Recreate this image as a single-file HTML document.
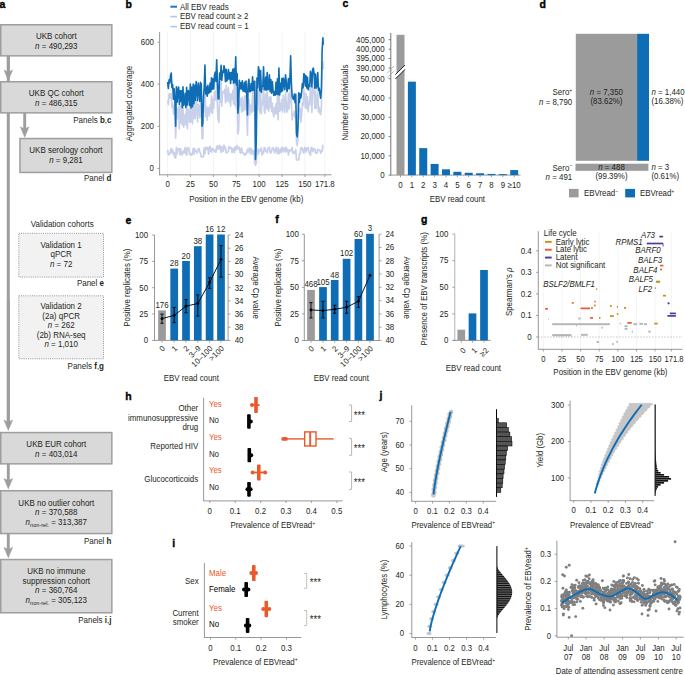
<!DOCTYPE html>
<html><head><meta charset="utf-8"><style>
html,body{margin:0;padding:0;background:#fff;}
svg{display:block;font-family:"Liberation Sans",sans-serif;}
</style></head><body>
<svg width="685" height="675" viewBox="0 0 685 675">
<text x="0" y="0" transform="translate(-0.60,7.60) scale(1,1.1)" font-size="10.5" fill="#000" font-weight="bold" stroke="#000" stroke-width="0.35">a</text>
<line x1="8.30" y1="56.00" x2="8.30" y2="425.00" stroke="#9e9e9e" stroke-width="3"/>
<line x1="8.30" y1="56.00" x2="8.30" y2="73.00" stroke="#9e9e9e" stroke-width="2.9"/>
<path d="M3.90,69.90 L8.30,72.10 L12.70,69.90 L8.30,80.60 Z" fill="#9e9e9e" stroke="#9e9e9e" stroke-width="0.4" stroke-linejoin="round"/>
<line x1="8.30" y1="300.00" x2="8.30" y2="423.00" stroke="#9e9e9e" stroke-width="2.9"/>
<path d="M3.90,419.90 L8.30,422.10 L12.70,419.90 L8.30,430.60 Z" fill="#9e9e9e" stroke="#9e9e9e" stroke-width="0.4" stroke-linejoin="round"/>
<line x1="8.30" y1="464.00" x2="8.30" y2="481.50" stroke="#9e9e9e" stroke-width="2.9"/>
<path d="M3.90,478.40 L8.30,480.60 L12.70,478.40 L8.30,489.10 Z" fill="#9e9e9e" stroke="#9e9e9e" stroke-width="0.4" stroke-linejoin="round"/>
<line x1="8.30" y1="534.00" x2="8.30" y2="550.30" stroke="#9e9e9e" stroke-width="2.9"/>
<path d="M3.90,547.20 L8.30,549.40 L12.70,547.20 L8.30,557.90 Z" fill="#9e9e9e" stroke="#9e9e9e" stroke-width="0.4" stroke-linejoin="round"/>
<line x1="24.70" y1="113.00" x2="24.70" y2="129.80" stroke="#9e9e9e" stroke-width="2.9"/>
<path d="M20.30,126.70 L24.70,128.90 L29.10,126.70 L24.70,137.40 Z" fill="#9e9e9e" stroke="#9e9e9e" stroke-width="0.4" stroke-linejoin="round"/>
<rect x="0.75" y="24.75" width="111.10" height="31.10" fill="#d9d9d9" stroke="#9e9e9e" stroke-width="1.5"/>
<text x="0" y="0" transform="translate(56.30,39.20) scale(1,1.1)" font-size="8" fill="#231f20" text-anchor="middle">UKB cohort</text>
<text x="0" y="0" transform="translate(56.30,48.60) scale(1,1.1)" font-size="8" fill="#231f20" text-anchor="middle"><tspan font-style="italic">n</tspan> = 490,293</text>
<rect x="0.75" y="81.75" width="111.10" height="31.10" fill="#d9d9d9" stroke="#9e9e9e" stroke-width="1.5"/>
<text x="0" y="0" transform="translate(56.30,96.40) scale(1,1.1)" font-size="8" fill="#231f20" text-anchor="middle">UKB QC cohort</text>
<text x="0" y="0" transform="translate(56.30,105.80) scale(1,1.1)" font-size="8" fill="#231f20" text-anchor="middle"><tspan font-style="italic">n</tspan> = 486,315</text>
<text x="0" y="0" transform="translate(111.50,122.80) scale(1,1.1)" font-size="8" fill="#231f20" text-anchor="end">Panels <tspan font-weight="bold">b</tspan>,<tspan font-weight="bold">c</tspan></text>
<rect x="19.95" y="138.55" width="91.90" height="33.90" fill="#d9d9d9" stroke="#9e9e9e" stroke-width="1.5"/>
<text x="0" y="0" transform="translate(65.90,153.30) scale(1,1.1)" font-size="8" fill="#231f20" text-anchor="middle">UKB serology cohort</text>
<text x="0" y="0" transform="translate(65.90,163.00) scale(1,1.1)" font-size="8" fill="#231f20" text-anchor="middle"><tspan font-style="italic">n</tspan> = 9,281</text>
<text x="0" y="0" transform="translate(111.50,181.20) scale(1,1.1)" font-size="8" fill="#231f20" text-anchor="end">Panel <tspan font-weight="bold">d</tspan></text>
<text x="0" y="0" transform="translate(62.20,226.90) scale(1,1.1)" font-size="8" fill="#231f20" text-anchor="middle">Validation cohorts</text>
<rect x="18.80" y="233.30" width="84.70" height="43.80" fill="#f2f2f2" stroke="#8a8a8a" stroke-width="0.9" stroke-dasharray="1,1.2"/>
<text x="0" y="0" transform="translate(61.15,247.90) scale(1,1.1)" font-size="8" fill="#231f20" text-anchor="middle">Validation 1</text>
<text x="0" y="0" transform="translate(61.15,257.30) scale(1,1.1)" font-size="8" fill="#231f20" text-anchor="middle">qPCR</text>
<text x="0" y="0" transform="translate(61.15,266.90) scale(1,1.1)" font-size="8" fill="#231f20" text-anchor="middle"><tspan font-style="italic">n</tspan> = 72</text>
<text x="0" y="0" transform="translate(104.00,286.40) scale(1,1.1)" font-size="8" fill="#231f20" text-anchor="end">Panel <tspan font-weight="bold">e</tspan></text>
<rect x="18.80" y="295.80" width="84.70" height="63.00" fill="#f2f2f2" stroke="#8a8a8a" stroke-width="0.9" stroke-dasharray="1,1.2"/>
<text x="0" y="0" transform="translate(61.15,309.20) scale(1,1.1)" font-size="8" fill="#231f20" text-anchor="middle">Validation 2</text>
<text x="0" y="0" transform="translate(61.15,318.80) scale(1,1.1)" font-size="8" fill="#231f20" text-anchor="middle">(2a) qPCR</text>
<text x="0" y="0" transform="translate(61.15,328.20) scale(1,1.1)" font-size="8" fill="#231f20" text-anchor="middle"><tspan font-style="italic">n</tspan> = 262</text>
<text x="0" y="0" transform="translate(61.15,338.00) scale(1,1.1)" font-size="8" fill="#231f20" text-anchor="middle">(2b) RNA-seq</text>
<text x="0" y="0" transform="translate(61.15,347.40) scale(1,1.1)" font-size="8" fill="#231f20" text-anchor="middle"><tspan font-style="italic">n</tspan> = 1,010</text>
<text x="0" y="0" transform="translate(104.00,369.10) scale(1,1.1)" font-size="8" fill="#231f20" text-anchor="end">Panels <tspan font-weight="bold">f</tspan>,<tspan font-weight="bold">g</tspan></text>
<rect x="0.75" y="432.55" width="111.10" height="31.30" fill="#d9d9d9" stroke="#9e9e9e" stroke-width="1.5"/>
<text x="0" y="0" transform="translate(56.30,446.80) scale(1,1.1)" font-size="8" fill="#231f20" text-anchor="middle">UKB EUR cohort</text>
<text x="0" y="0" transform="translate(56.30,456.50) scale(1,1.1)" font-size="8" fill="#231f20" text-anchor="middle"><tspan font-style="italic">n</tspan> = 403,014</text>
<rect x="0.75" y="490.75" width="111.10" height="42.80" fill="#d9d9d9" stroke="#9e9e9e" stroke-width="1.5"/>
<text x="0" y="0" transform="translate(56.30,505.80) scale(1,1.1)" font-size="8" fill="#231f20" text-anchor="middle">UKB no outlier cohort</text>
<text x="0" y="0" transform="translate(56.30,515.20) scale(1,1.1)" font-size="8" fill="#231f20" text-anchor="middle"><tspan font-style="italic">n</tspan> = 370,588</text>
<text x="0" y="0" transform="translate(56.30,524.60) scale(1,1.1)" font-size="8" fill="#231f20" text-anchor="middle"><tspan font-style="italic">n</tspan><tspan font-size="5.6" dy="2.2">non-rel.</tspan><tspan dy="-2.2"> = </tspan>313,387</text>
<text x="0" y="0" transform="translate(111.50,543.60) scale(1,1.1)" font-size="8" fill="#231f20" text-anchor="end">Panel <tspan font-weight="bold">h</tspan></text>
<rect x="0.75" y="559.55" width="111.10" height="53.20" fill="#d9d9d9" stroke="#9e9e9e" stroke-width="1.5"/>
<text x="0" y="0" transform="translate(56.30,573.80) scale(1,1.1)" font-size="8" fill="#231f20" text-anchor="middle">UKB no immune</text>
<text x="0" y="0" transform="translate(56.30,583.60) scale(1,1.1)" font-size="8" fill="#231f20" text-anchor="middle">suppression cohort</text>
<text x="0" y="0" transform="translate(56.30,592.80) scale(1,1.1)" font-size="8" fill="#231f20" text-anchor="middle"><tspan font-style="italic">n</tspan> = 360,764</text>
<text x="0" y="0" transform="translate(56.30,602.60) scale(1,1.1)" font-size="8" fill="#231f20" text-anchor="middle"><tspan font-style="italic">n</tspan><tspan font-size="5.6" dy="2.2">non-rel.</tspan><tspan dy="-2.2"> = </tspan>305,123</text>
<text x="0" y="0" transform="translate(111.50,623.40) scale(1,1.1)" font-size="8" fill="#231f20" text-anchor="end">Panels <tspan font-weight="bold">i</tspan>,<tspan font-weight="bold">j</tspan></text>
<text x="0" y="0" transform="translate(125.50,7.50) scale(1,1.1)" font-size="10.5" fill="#000" font-weight="bold" stroke="#000" stroke-width="0.35">b</text>
<line x1="170.40" y1="6.70" x2="177.00" y2="6.70" stroke="#2476bb" stroke-width="2.0"/>
<text x="0" y="0" transform="translate(180.00,9.60) scale(1,1.1)" font-size="7.9" fill="#231f20">All EBV reads</text>
<line x1="170.40" y1="16.60" x2="177.00" y2="16.60" stroke="#a9cae8" stroke-width="1.6"/>
<text x="0" y="0" transform="translate(180.00,19.40) scale(1,1.1)" font-size="7.9" fill="#231f20">EBV read count ≥ 2</text>
<line x1="170.40" y1="26.60" x2="177.00" y2="26.60" stroke="#a9cae8" stroke-width="1.6"/>
<text x="0" y="0" transform="translate(180.00,29.30) scale(1,1.1)" font-size="7.9" fill="#231f20">EBV read count = 1</text>
<line x1="167.60" y1="31.90" x2="167.60" y2="174.50" stroke="#ececec" stroke-width="0.6"/>
<line x1="190.49" y1="31.90" x2="190.49" y2="174.50" stroke="#ececec" stroke-width="0.6"/>
<line x1="213.38" y1="31.90" x2="213.38" y2="174.50" stroke="#ececec" stroke-width="0.6"/>
<line x1="236.26" y1="31.90" x2="236.26" y2="174.50" stroke="#ececec" stroke-width="0.6"/>
<line x1="259.15" y1="31.90" x2="259.15" y2="174.50" stroke="#ececec" stroke-width="0.6"/>
<line x1="282.04" y1="31.90" x2="282.04" y2="174.50" stroke="#ececec" stroke-width="0.6"/>
<line x1="304.92" y1="31.90" x2="304.92" y2="174.50" stroke="#ececec" stroke-width="0.6"/>
<line x1="324.88" y1="31.90" x2="324.88" y2="174.50" stroke="#ececec" stroke-width="0.6"/>
<line x1="159.60" y1="31.90" x2="159.60" y2="175.20" stroke="#8c8c8c" stroke-width="0.9"/>
<line x1="159.20" y1="174.80" x2="331.50" y2="174.80" stroke="#8c8c8c" stroke-width="0.9"/>
<line x1="157.40" y1="168.40" x2="159.60" y2="168.40" stroke="#8c8c8c" stroke-width="0.8"/>
<text x="0" y="0" transform="translate(154.00,171.20) scale(1,1.1)" font-size="7.9" fill="#231f20" text-anchor="end">0</text>
<line x1="157.40" y1="126.30" x2="159.60" y2="126.30" stroke="#8c8c8c" stroke-width="0.8"/>
<text x="0" y="0" transform="translate(154.00,129.10) scale(1,1.1)" font-size="7.9" fill="#231f20" text-anchor="end">200</text>
<line x1="157.40" y1="84.20" x2="159.60" y2="84.20" stroke="#8c8c8c" stroke-width="0.8"/>
<text x="0" y="0" transform="translate(154.00,87.00) scale(1,1.1)" font-size="7.9" fill="#231f20" text-anchor="end">400</text>
<line x1="157.40" y1="42.10" x2="159.60" y2="42.10" stroke="#8c8c8c" stroke-width="0.8"/>
<text x="0" y="0" transform="translate(154.00,44.90) scale(1,1.1)" font-size="7.9" fill="#231f20" text-anchor="end">600</text>
<line x1="167.60" y1="174.80" x2="167.60" y2="177.00" stroke="#8c8c8c" stroke-width="0.8"/>
<text x="0" y="0" transform="translate(167.60,187.40) scale(1,1.1)" font-size="7.9" fill="#231f20" text-anchor="middle">0</text>
<line x1="190.49" y1="174.80" x2="190.49" y2="177.00" stroke="#8c8c8c" stroke-width="0.8"/>
<text x="0" y="0" transform="translate(190.49,187.40) scale(1,1.1)" font-size="7.9" fill="#231f20" text-anchor="middle">25</text>
<line x1="213.38" y1="174.80" x2="213.38" y2="177.00" stroke="#8c8c8c" stroke-width="0.8"/>
<text x="0" y="0" transform="translate(213.38,187.40) scale(1,1.1)" font-size="7.9" fill="#231f20" text-anchor="middle">50</text>
<line x1="236.26" y1="174.80" x2="236.26" y2="177.00" stroke="#8c8c8c" stroke-width="0.8"/>
<text x="0" y="0" transform="translate(236.26,187.40) scale(1,1.1)" font-size="7.9" fill="#231f20" text-anchor="middle">75</text>
<line x1="259.15" y1="174.80" x2="259.15" y2="177.00" stroke="#8c8c8c" stroke-width="0.8"/>
<text x="0" y="0" transform="translate(259.15,187.40) scale(1,1.1)" font-size="7.9" fill="#231f20" text-anchor="middle">100</text>
<line x1="282.04" y1="174.80" x2="282.04" y2="177.00" stroke="#8c8c8c" stroke-width="0.8"/>
<text x="0" y="0" transform="translate(282.04,187.40) scale(1,1.1)" font-size="7.9" fill="#231f20" text-anchor="middle">125</text>
<line x1="304.92" y1="174.80" x2="304.92" y2="177.00" stroke="#8c8c8c" stroke-width="0.8"/>
<text x="0" y="0" transform="translate(304.92,187.40) scale(1,1.1)" font-size="7.9" fill="#231f20" text-anchor="middle">150</text>
<line x1="324.88" y1="174.80" x2="324.88" y2="177.00" stroke="#8c8c8c" stroke-width="0.8"/>
<text x="0" y="0" transform="translate(324.88,187.40) scale(1,1.1)" font-size="7.9" fill="#231f20" text-anchor="middle">171.8</text>
<text x="0" y="0" transform="translate(246.24,202.00) scale(1,1.1)" font-size="7.9" fill="#231f20" text-anchor="middle">Position in the EBV genome (kb)</text>
<text x="0" y="0" font-size="7.9" fill="#231f20" text-anchor="middle" transform="translate(131.80,103.50) rotate(-90) scale(1,1.1)">Aggregated coverage</text>
<polyline points="167.60,149.93 168.33,154.67 169.06,154.58 169.80,154.15 170.53,150.52 171.26,148.27 171.99,152.67 172.73,150.03 173.46,154.66 174.19,152.63 174.92,157.88 175.66,157.88 176.39,147.30 177.12,153.92 177.85,149.02 178.59,149.58 179.32,148.42 180.05,154.65 180.78,148.56 181.52,154.96 182.25,154.67 182.98,152.01 183.71,150.74 184.45,152.91 185.18,147.48 185.91,153.27 186.64,155.11 187.37,147.51 188.11,149.73 188.84,148.14 189.57,154.31 190.30,153.47 191.04,155.14 191.77,154.93 192.50,153.12 193.23,148.35 193.97,154.45 194.70,148.51 195.43,150.91 196.16,150.91 196.90,153.05 197.63,150.88 198.36,148.65 199.09,148.59 199.83,152.29 200.56,153.07 201.29,156.82 202.02,156.82 202.76,156.82 203.49,156.82 204.22,147.86 204.95,153.71 205.68,147.37 206.42,149.34 207.15,147.90 207.88,147.30 208.61,154.09 209.35,148.82 210.08,146.43 210.81,151.11 211.54,151.99 212.28,148.37 213.01,149.02 213.74,149.51 214.47,151.65 215.21,150.43 215.94,152.18 216.67,146.86 217.40,145.73 218.14,148.94 218.87,149.21 219.60,145.50 220.33,146.31 221.07,152.45 221.80,146.76 222.53,147.75 223.26,151.28 223.99,145.12 224.73,148.91 225.46,147.26 226.19,152.89 226.92,152.52 227.66,152.20 228.39,150.87 229.12,146.48 229.85,148.47 230.59,147.53 231.32,147.96 232.05,152.50 232.78,148.61 233.52,148.82 234.25,152.63 234.98,146.96 235.71,150.26 236.45,147.17 237.18,145.56 237.91,149.07 238.64,147.53 239.38,147.38 240.11,152.60 240.84,153.09 241.57,148.18 242.30,152.79 243.04,153.03 243.77,153.18 244.50,155.13 245.23,153.53 245.97,154.42 246.70,152.70 247.43,149.13 248.16,152.02 248.90,149.35 249.63,148.00 250.36,154.02 251.09,148.70 251.83,149.68 252.56,154.07 253.29,150.67 254.02,151.22 254.76,163.77 255.49,163.77 256.22,163.77 256.95,151.19 257.69,149.00 258.42,153.96 259.15,150.60 259.88,149.76 260.61,151.01 261.35,147.99 262.08,155.00 262.81,151.54 263.54,153.45 264.28,147.52 265.01,148.04 265.74,151.25 266.47,151.53 267.21,152.61 267.94,148.43 268.67,147.93 269.40,147.15 270.14,152.94 270.87,152.85 271.60,151.05 272.33,148.07 273.07,147.61 273.80,149.28 274.53,152.85 275.26,151.36 276.00,147.33 276.73,150.68 277.46,153.48 278.19,147.89 278.92,153.60 279.66,153.23 280.39,149.14 281.12,152.12 281.85,147.40 282.59,148.24 283.32,151.94 284.05,148.16 284.78,147.97 285.52,152.01 286.25,147.36 286.98,150.96 287.71,149.96 288.45,154.82 289.18,149.98 289.91,150.05 290.64,150.94 291.38,150.33 292.11,147.47 292.84,153.26 293.57,152.68 294.31,151.78 295.04,153.32 295.77,149.68 296.50,159.98 297.23,159.98 297.97,159.98 298.70,159.98 299.43,153.97 300.16,154.00 300.90,147.95 301.63,147.69 302.36,149.17 303.09,152.15 303.83,152.90 304.56,147.43 305.29,148.56 306.02,152.16 306.76,147.96 307.49,149.01 308.22,147.78 308.95,152.43 309.69,153.04 310.42,155.11 311.15,147.59 311.88,147.49 312.62,151.70 313.35,148.72 314.08,150.28 314.81,148.88 315.54,153.16 316.28,152.53 317.01,153.02 317.74,149.46 318.47,150.18 319.21,149.82 319.94,150.60 320.67,153.16 321.40,150.51 322.14,151.08 322.87,145.25 323.24,145.25" fill="none" stroke="#c8d0ea" stroke-width="1.7" stroke-linejoin="round"/>
<polyline points="167.60,100.60 168.33,104.60 169.06,93.85 169.80,98.34 170.53,93.86 171.26,93.59 171.99,107.28 172.73,103.91 173.46,113.85 174.19,105.47 174.92,115.20 175.66,138.30 176.39,108.02 177.12,118.87 177.85,110.59 178.59,106.86 179.32,128.84 180.05,105.46 180.78,122.66 181.52,105.00 182.25,124.98 182.98,104.73 183.71,127.26 184.45,120.43 185.18,114.38 185.91,124.97 186.64,101.22 187.37,128.95 188.11,109.19 188.84,113.33 189.57,122.53 190.30,99.19 191.04,121.97 191.77,102.05 192.50,123.65 193.23,105.79 193.97,118.33 194.70,105.56 195.43,118.71 196.16,100.74 196.90,104.56 197.63,121.85 198.36,104.38 199.09,109.50 199.83,117.76 200.56,98.88 201.29,97.80 202.02,138.26 202.76,138.89 203.49,112.29 204.22,109.07 204.95,81.06 205.68,116.72 206.42,106.42 207.15,120.32 207.88,107.47 208.61,107.77 209.35,116.03 210.08,105.33 210.81,112.02 211.54,95.82 212.28,113.50 213.01,99.13 213.74,108.68 214.47,92.81 215.21,91.15 215.94,100.32 216.67,82.18 217.40,105.91 218.14,119.56 218.87,122.49 219.60,96.40 220.33,102.29 221.07,81.61 221.80,106.12 222.53,92.12 223.26,91.49 223.99,92.82 224.73,89.41 225.46,103.03 226.19,85.48 226.92,101.29 227.66,96.26 228.39,87.21 229.12,102.19 229.85,93.59 230.59,106.18 231.32,94.38 232.05,99.30 232.78,90.53 233.52,103.94 234.25,84.60 234.98,105.42 235.71,75.01 236.45,108.68 237.18,96.62 237.91,133.98 238.64,130.67 239.38,102.31 240.11,105.41 240.84,98.45 241.57,112.28 242.30,97.24 243.04,110.89 243.77,110.80 244.50,96.10 245.23,109.11 245.97,95.80 246.70,111.60 247.43,135.31 248.16,101.33 248.90,99.34 249.63,115.05 250.36,108.58 251.09,104.56 251.83,112.72 252.56,91.68 253.29,111.04 254.02,98.59 254.76,86.76 255.49,165.36 256.22,148.12 256.95,95.89 257.69,109.90 258.42,81.60 259.15,88.60 259.88,112.67 260.61,88.62 261.35,113.68 262.08,101.97 262.81,104.40 263.54,82.65 264.28,110.97 265.01,113.35 265.74,94.13 266.47,108.55 267.21,89.74 267.94,109.54 268.67,111.31 269.40,96.95 270.14,107.46 270.87,96.77 271.60,111.49 272.33,103.22 273.07,113.21 273.80,116.61 274.53,107.57 275.26,113.71 276.00,103.78 276.73,113.87 277.46,95.33 278.19,119.82 278.92,82.94 279.66,111.32 280.39,103.23 281.12,109.79 281.85,99.80 282.59,112.06 283.32,95.14 284.05,102.15 284.78,112.33 285.52,92.78 286.25,102.67 286.98,112.29 287.71,110.56 288.45,93.48 289.18,108.64 289.91,99.31 290.64,75.94 291.38,101.01 292.11,119.88 292.84,114.44 293.57,115.32 294.31,111.08 295.04,117.85 295.77,113.32 296.50,142.43 297.23,145.63 297.97,139.13 298.70,101.88 299.43,118.78 300.16,108.40 300.90,122.47 301.63,114.49 302.36,102.91 303.09,105.68 303.83,89.79 304.56,95.62 305.29,107.69 306.02,93.63 306.76,108.43 307.49,96.73 308.22,111.58 308.95,102.20 309.69,105.00 310.42,85.80 311.15,94.73 311.88,112.33 312.62,86.92 313.35,89.02 314.08,92.07 314.81,108.11 315.54,89.29 316.28,108.36 317.01,101.40 317.74,92.19 318.47,111.90 319.21,107.19 319.94,113.16 320.67,114.68 321.40,107.55 322.14,68.91 322.87,61.52 323.24,69.37" fill="none" stroke="#c8d0ea" stroke-width="1.6" stroke-linejoin="round"/>
<polyline points="167.60,82.01 168.33,88.52 169.06,79.87 169.80,83.05 170.53,75.32 171.26,72.97 171.99,87.77 172.73,84.91 173.46,99.16 174.19,88.71 174.92,101.44 175.66,126.30 176.39,86.72 177.12,102.12 177.85,90.25 178.59,87.04 179.32,104.48 180.05,90.53 180.78,101.51 181.52,90.78 182.25,107.69 182.98,86.87 183.71,105.51 184.45,103.02 185.18,93.20 185.91,107.59 186.64,87.22 187.37,104.87 188.11,90.43 188.84,91.73 189.57,105.51 190.30,83.98 191.04,108.00 191.77,87.12 192.50,106.76 193.23,84.06 193.97,103.91 194.70,85.39 195.43,100.54 196.16,81.61 196.90,88.59 197.63,100.72 198.36,82.97 199.09,88.45 199.83,101.52 200.56,82.38 201.29,84.56 202.02,126.30 202.76,123.14 203.49,97.01 204.22,87.22 204.95,65.04 205.68,93.85 206.42,87.07 207.15,96.08 207.88,85.26 208.61,93.40 209.35,92.13 210.08,83.00 210.81,92.01 211.54,77.87 212.28,89.28 213.01,78.85 213.74,88.95 214.47,75.27 215.21,72.31 215.94,81.51 216.67,59.78 217.40,81.20 218.14,98.94 218.87,98.94 219.60,73.06 220.33,79.57 221.07,65.26 221.80,80.33 222.53,71.23 223.26,72.77 223.99,65.68 224.73,69.35 225.46,81.80 226.19,69.42 226.92,80.84 227.66,78.82 228.39,69.47 229.12,79.07 229.85,72.48 230.59,83.34 231.32,72.59 232.05,79.41 232.78,69.18 233.52,83.26 234.25,68.49 234.98,82.64 235.71,56.84 236.45,84.90 237.18,73.60 237.91,113.25 238.64,105.25 239.38,80.22 240.11,89.00 240.84,82.87 241.57,88.95 242.30,80.86 243.04,91.07 243.77,91.11 244.50,82.19 245.23,91.91 245.97,81.15 246.70,94.83 247.43,114.93 248.16,84.40 248.90,79.20 249.63,91.75 250.36,91.78 251.09,83.47 251.83,90.78 252.56,76.74 253.29,90.40 254.02,81.41 254.76,81.23 255.49,159.56 256.22,143.14 256.95,78.03 257.69,87.64 258.42,66.73 259.15,70.78 259.88,90.83 260.61,70.45 261.35,92.35 262.08,86.45 262.81,86.30 263.54,66.73 264.28,89.47 265.01,89.73 265.74,76.94 266.47,90.29 267.21,72.53 267.94,89.01 268.67,89.50 269.40,74.71 270.14,91.77 270.87,79.65 271.60,93.26 272.33,81.52 273.07,89.88 273.80,95.40 274.53,91.80 275.26,95.08 276.00,82.27 276.73,94.32 277.46,78.88 278.19,94.69 278.92,67.99 279.66,94.95 280.39,83.28 281.12,91.95 281.85,78.59 282.59,90.90 283.32,77.93 284.05,81.87 284.78,89.72 285.52,74.83 286.25,81.21 286.98,91.69 287.71,88.58 288.45,78.59 289.18,88.81 289.91,79.79 290.64,55.78 291.38,82.92 292.11,95.97 292.84,98.15 293.57,99.50 294.31,94.03 295.04,102.61 295.77,94.26 296.50,133.67 297.23,136.83 297.97,126.30 298.70,92.76 299.43,102.53 300.16,93.92 300.90,97.93 301.63,92.25 302.36,83.62 303.09,87.89 303.83,73.70 304.56,74.30 305.29,85.85 306.02,75.84 306.76,87.85 307.49,77.26 308.22,89.77 308.95,84.96 309.69,86.33 310.42,71.23 311.15,73.88 311.88,87.00 312.62,69.39 313.35,68.09 314.08,73.40 314.81,88.22 315.54,73.94 316.28,87.95 317.01,85.63 317.74,72.50 318.47,90.55 319.21,88.05 319.94,93.64 320.67,98.30 321.40,89.11 322.14,50.52 322.87,37.89 323.24,44.68" fill="none" stroke="#0e6db4" stroke-width="1.6" stroke-linejoin="round"/>
<text x="0" y="0" transform="translate(342.50,7.30) scale(1,1.1)" font-size="10.5" fill="#000" font-weight="bold" stroke="#000" stroke-width="0.35">c</text>
<line x1="390.80" y1="32.90" x2="390.80" y2="175.50" stroke="#666" stroke-width="0.9"/>
<line x1="390.80" y1="175.10" x2="520.50" y2="175.10" stroke="#8c8c8c" stroke-width="0.9"/>
<line x1="388.50" y1="175.10" x2="390.80" y2="175.10" stroke="#666" stroke-width="0.8"/>
<text x="0" y="0" transform="translate(384.60,177.90) scale(1,1.1)" font-size="7.9" fill="#231f20" text-anchor="end">0</text>
<line x1="388.50" y1="155.83" x2="390.80" y2="155.83" stroke="#666" stroke-width="0.8"/>
<text x="0" y="0" transform="translate(384.60,158.63) scale(1,1.1)" font-size="7.9" fill="#231f20" text-anchor="end">10,000</text>
<line x1="388.50" y1="136.56" x2="390.80" y2="136.56" stroke="#666" stroke-width="0.8"/>
<text x="0" y="0" transform="translate(384.60,139.36) scale(1,1.1)" font-size="7.9" fill="#231f20" text-anchor="end">20,000</text>
<line x1="388.50" y1="117.29" x2="390.80" y2="117.29" stroke="#666" stroke-width="0.8"/>
<text x="0" y="0" transform="translate(384.60,120.09) scale(1,1.1)" font-size="7.9" fill="#231f20" text-anchor="end">30,000</text>
<line x1="388.50" y1="98.02" x2="390.80" y2="98.02" stroke="#666" stroke-width="0.8"/>
<text x="0" y="0" transform="translate(384.60,100.82) scale(1,1.1)" font-size="7.9" fill="#231f20" text-anchor="end">40,000</text>
<line x1="388.50" y1="78.75" x2="390.80" y2="78.75" stroke="#666" stroke-width="0.8"/>
<text x="0" y="0" transform="translate(384.60,81.55) scale(1,1.1)" font-size="7.9" fill="#231f20" text-anchor="end">50,000</text>
<line x1="388.50" y1="68.10" x2="390.80" y2="68.10" stroke="#666" stroke-width="0.8"/>
<text x="0" y="0" transform="translate(384.60,70.90) scale(1,1.1)" font-size="7.9" fill="#231f20" text-anchor="end">390,000</text>
<line x1="388.50" y1="58.50" x2="390.80" y2="58.50" stroke="#666" stroke-width="0.8"/>
<text x="0" y="0" transform="translate(384.60,61.30) scale(1,1.1)" font-size="7.9" fill="#231f20" text-anchor="end">395,000</text>
<line x1="388.50" y1="49.20" x2="390.80" y2="49.20" stroke="#666" stroke-width="0.8"/>
<text x="0" y="0" transform="translate(384.60,52.00) scale(1,1.1)" font-size="7.9" fill="#231f20" text-anchor="end">400,000</text>
<line x1="388.50" y1="39.70" x2="390.80" y2="39.70" stroke="#666" stroke-width="0.8"/>
<text x="0" y="0" transform="translate(384.60,42.50) scale(1,1.1)" font-size="7.9" fill="#231f20" text-anchor="end">405,000</text>
<rect x="396.50" y="34.80" width="8.00" height="140.30" fill="#9b9b9b"/>
<line x1="400.50" y1="175.10" x2="400.50" y2="177.30" stroke="#8c8c8c" stroke-width="0.8"/>
<text x="0" y="0" transform="translate(400.50,187.60) scale(1,1.1)" font-size="7.9" fill="#231f20" text-anchor="middle">0</text>
<rect x="407.87" y="81.64" width="8.00" height="93.46" fill="#0e6db4"/>
<line x1="411.87" y1="175.10" x2="411.87" y2="177.30" stroke="#8c8c8c" stroke-width="0.8"/>
<text x="0" y="0" transform="translate(411.87,187.60) scale(1,1.1)" font-size="7.9" fill="#231f20" text-anchor="middle">1</text>
<rect x="419.24" y="148.12" width="8.00" height="26.98" fill="#0e6db4"/>
<line x1="423.24" y1="175.10" x2="423.24" y2="177.30" stroke="#8c8c8c" stroke-width="0.8"/>
<text x="0" y="0" transform="translate(423.24,187.60) scale(1,1.1)" font-size="7.9" fill="#231f20" text-anchor="middle">2</text>
<rect x="430.61" y="163.92" width="8.00" height="11.18" fill="#0e6db4"/>
<line x1="434.61" y1="175.10" x2="434.61" y2="177.30" stroke="#8c8c8c" stroke-width="0.8"/>
<text x="0" y="0" transform="translate(434.61,187.60) scale(1,1.1)" font-size="7.9" fill="#231f20" text-anchor="middle">3</text>
<rect x="441.98" y="169.32" width="8.00" height="5.78" fill="#0e6db4"/>
<line x1="445.98" y1="175.10" x2="445.98" y2="177.30" stroke="#8c8c8c" stroke-width="0.8"/>
<text x="0" y="0" transform="translate(445.98,187.60) scale(1,1.1)" font-size="7.9" fill="#231f20" text-anchor="middle">4</text>
<rect x="453.35" y="171.82" width="8.00" height="3.28" fill="#0e6db4"/>
<line x1="457.35" y1="175.10" x2="457.35" y2="177.30" stroke="#8c8c8c" stroke-width="0.8"/>
<text x="0" y="0" transform="translate(457.35,187.60) scale(1,1.1)" font-size="7.9" fill="#231f20" text-anchor="middle">5</text>
<rect x="464.72" y="172.79" width="8.00" height="2.31" fill="#0e6db4"/>
<line x1="468.72" y1="175.10" x2="468.72" y2="177.30" stroke="#8c8c8c" stroke-width="0.8"/>
<text x="0" y="0" transform="translate(468.72,187.60) scale(1,1.1)" font-size="7.9" fill="#231f20" text-anchor="middle">6</text>
<rect x="476.09" y="173.27" width="8.00" height="1.83" fill="#0e6db4"/>
<line x1="480.09" y1="175.10" x2="480.09" y2="177.30" stroke="#8c8c8c" stroke-width="0.8"/>
<text x="0" y="0" transform="translate(480.09,187.60) scale(1,1.1)" font-size="7.9" fill="#231f20" text-anchor="middle">7</text>
<rect x="487.46" y="173.94" width="8.00" height="1.16" fill="#0e6db4"/>
<line x1="491.46" y1="175.10" x2="491.46" y2="177.30" stroke="#8c8c8c" stroke-width="0.8"/>
<text x="0" y="0" transform="translate(491.46,187.60) scale(1,1.1)" font-size="7.9" fill="#231f20" text-anchor="middle">8</text>
<rect x="498.83" y="174.14" width="8.00" height="0.96" fill="#0e6db4"/>
<line x1="502.83" y1="175.10" x2="502.83" y2="177.30" stroke="#8c8c8c" stroke-width="0.8"/>
<text x="0" y="0" transform="translate(502.83,187.60) scale(1,1.1)" font-size="7.9" fill="#231f20" text-anchor="middle">9</text>
<rect x="510.20" y="170.09" width="8.00" height="5.01" fill="#0e6db4"/>
<line x1="514.20" y1="175.10" x2="514.20" y2="177.30" stroke="#8c8c8c" stroke-width="0.8"/>
<text x="0" y="0" transform="translate(514.20,187.60) scale(1,1.1)" font-size="7.9" fill="#231f20" text-anchor="middle">≥10</text>
<line x1="387.00" y1="73.40" x2="394.00" y2="66.10" stroke="#9a9a9a" stroke-width="0.7"/>
<line x1="387.30" y1="77.80" x2="394.00" y2="71.10" stroke="#9a9a9a" stroke-width="0.7"/>
<polygon points="395.2,74.8 405.2,64.9 405.2,69.3 395.2,79.4" fill="#fff"/>
<line x1="395.40" y1="74.60" x2="405.00" y2="65.10" stroke="#111" stroke-width="0.9"/>
<line x1="395.40" y1="79.00" x2="405.00" y2="69.40" stroke="#111" stroke-width="1.0"/>
<text x="0" y="0" transform="translate(457.35,202.00) scale(1,1.1)" font-size="7.9" fill="#231f20" text-anchor="middle">EBV read count</text>
<text x="0" y="0" font-size="7.9" fill="#231f20" text-anchor="middle" transform="translate(348.20,102.50) rotate(-90) scale(1,1.1)">Number of individuals</text>
<text x="0" y="0" transform="translate(539.50,7.50) scale(1,1.1)" font-size="10.5" fill="#000" font-weight="bold" stroke="#000" stroke-width="0.35">d</text>
<rect x="575.80" y="33.80" width="61.30" height="127.00" fill="#9b9b9b"/>
<rect x="637.10" y="33.80" width="11.90" height="127.00" fill="#0e6db4"/>
<rect x="575.50" y="163.70" width="72.60" height="7.10" fill="#9b9b9b"/>
<rect x="648.10" y="163.70" width="0.50" height="7.10" fill="#9fc3e6"/>
<text x="0" y="0" transform="translate(572.20,95.40) scale(1,1.1)" font-size="7.9" fill="#231f20" text-anchor="end">Sero<tspan font-size="5" dy="-3.2">+</tspan></text>
<text x="0" y="0" transform="translate(572.20,104.60) scale(1,1.1)" font-size="7.9" fill="#231f20" text-anchor="end"><tspan font-style="italic">n</tspan> = 8,790</text>
<text x="0" y="0" transform="translate(606.40,94.80) scale(1,1.1)" font-size="7.9" fill="#231f20" text-anchor="middle"><tspan font-style="italic">n</tspan> = 7,350</text>
<text x="0" y="0" transform="translate(606.40,104.40) scale(1,1.1)" font-size="7.9" fill="#231f20" text-anchor="middle">(83.62%)</text>
<text x="0" y="0" transform="translate(651.40,94.80) scale(1,1.1)" font-size="7.9" fill="#231f20"><tspan font-style="italic">n</tspan> = 1,440</text>
<text x="0" y="0" transform="translate(651.40,104.40) scale(1,1.1)" font-size="7.9" fill="#231f20">(16.38%)</text>
<text x="0" y="0" transform="translate(572.20,170.60) scale(1,1.1)" font-size="7.9" fill="#231f20" text-anchor="end">Sero<tspan font-size="5" dy="-3.2">−</tspan></text>
<text x="0" y="0" transform="translate(572.20,179.70) scale(1,1.1)" font-size="7.9" fill="#231f20" text-anchor="end"><tspan font-style="italic">n</tspan> = 491</text>
<text x="0" y="0" transform="translate(611.50,170.00) scale(1,1.1)" font-size="7.9" fill="#231f20" text-anchor="middle"><tspan font-style="italic">n</tspan> = 488</text>
<text x="0" y="0" transform="translate(611.50,179.40) scale(1,1.1)" font-size="7.9" fill="#231f20" text-anchor="middle">(99.39%)</text>
<text x="0" y="0" transform="translate(651.40,169.80) scale(1,1.1)" font-size="7.9" fill="#231f20"><tspan font-style="italic">n</tspan> = 3</text>
<text x="0" y="0" transform="translate(651.40,179.20) scale(1,1.1)" font-size="7.9" fill="#231f20">(0.61%)</text>
<rect x="569.00" y="188.90" width="9.60" height="8.50" fill="#9b9b9b"/>
<text x="0" y="0" transform="translate(583.90,196.20) scale(1,1.1)" font-size="7.9" fill="#231f20">EBVread<tspan font-size="5" dy="-3.2">−</tspan></text>
<rect x="625.20" y="188.90" width="9.80" height="8.50" fill="#0e6db4"/>
<text x="0" y="0" transform="translate(640.00,196.20) scale(1,1.1)" font-size="7.9" fill="#231f20">EBVread<tspan font-size="5" dy="-3.2">+</tspan></text>
<text x="0" y="0" transform="translate(125.50,223.50) scale(1,1.1)" font-size="10.5" fill="#000" font-weight="bold" stroke="#000" stroke-width="0.35">e</text>
<line x1="154.50" y1="235.00" x2="154.50" y2="340.80" stroke="#8c8c8c" stroke-width="0.9"/>
<line x1="228.10" y1="235.00" x2="228.10" y2="340.80" stroke="#8c8c8c" stroke-width="0.9"/>
<line x1="154.50" y1="340.40" x2="228.10" y2="340.40" stroke="#8c8c8c" stroke-width="0.9"/>
<line x1="152.10" y1="340.40" x2="154.50" y2="340.40" stroke="#8c8c8c" stroke-width="0.8"/>
<text x="0" y="0" transform="translate(148.10,343.20) scale(1,1.1)" font-size="7.9" fill="#231f20" text-anchor="end">0</text>
<line x1="152.10" y1="314.05" x2="154.50" y2="314.05" stroke="#8c8c8c" stroke-width="0.8"/>
<text x="0" y="0" transform="translate(148.10,316.85) scale(1,1.1)" font-size="7.9" fill="#231f20" text-anchor="end">25</text>
<line x1="152.10" y1="287.70" x2="154.50" y2="287.70" stroke="#8c8c8c" stroke-width="0.8"/>
<text x="0" y="0" transform="translate(148.10,290.50) scale(1,1.1)" font-size="7.9" fill="#231f20" text-anchor="end">50</text>
<line x1="152.10" y1="261.35" x2="154.50" y2="261.35" stroke="#8c8c8c" stroke-width="0.8"/>
<text x="0" y="0" transform="translate(148.10,264.15) scale(1,1.1)" font-size="7.9" fill="#231f20" text-anchor="end">75</text>
<line x1="152.10" y1="235.00" x2="154.50" y2="235.00" stroke="#8c8c8c" stroke-width="0.8"/>
<text x="0" y="0" transform="translate(148.10,237.80) scale(1,1.1)" font-size="7.9" fill="#231f20" text-anchor="end">100</text>
<line x1="228.10" y1="235.00" x2="230.50" y2="235.00" stroke="#8c8c8c" stroke-width="0.8"/>
<text x="0" y="0" transform="translate(234.70,237.80) scale(1,1.1)" font-size="7.9" fill="#231f20">24</text>
<line x1="228.10" y1="248.18" x2="230.50" y2="248.18" stroke="#8c8c8c" stroke-width="0.8"/>
<text x="0" y="0" transform="translate(234.70,250.98) scale(1,1.1)" font-size="7.9" fill="#231f20">26</text>
<line x1="228.10" y1="261.35" x2="230.50" y2="261.35" stroke="#8c8c8c" stroke-width="0.8"/>
<text x="0" y="0" transform="translate(234.70,264.15) scale(1,1.1)" font-size="7.9" fill="#231f20">28</text>
<line x1="228.10" y1="274.52" x2="230.50" y2="274.52" stroke="#8c8c8c" stroke-width="0.8"/>
<text x="0" y="0" transform="translate(234.70,277.32) scale(1,1.1)" font-size="7.9" fill="#231f20">30</text>
<line x1="228.10" y1="287.70" x2="230.50" y2="287.70" stroke="#8c8c8c" stroke-width="0.8"/>
<text x="0" y="0" transform="translate(234.70,290.50) scale(1,1.1)" font-size="7.9" fill="#231f20">32</text>
<line x1="228.10" y1="300.88" x2="230.50" y2="300.88" stroke="#8c8c8c" stroke-width="0.8"/>
<text x="0" y="0" transform="translate(234.70,303.68) scale(1,1.1)" font-size="7.9" fill="#231f20">34</text>
<line x1="228.10" y1="314.05" x2="230.50" y2="314.05" stroke="#8c8c8c" stroke-width="0.8"/>
<text x="0" y="0" transform="translate(234.70,316.85) scale(1,1.1)" font-size="7.9" fill="#231f20">36</text>
<line x1="228.10" y1="327.22" x2="230.50" y2="327.22" stroke="#8c8c8c" stroke-width="0.8"/>
<text x="0" y="0" transform="translate(234.70,330.02) scale(1,1.1)" font-size="7.9" fill="#231f20">38</text>
<line x1="228.10" y1="340.40" x2="230.50" y2="340.40" stroke="#8c8c8c" stroke-width="0.8"/>
<text x="0" y="0" transform="translate(234.70,343.20) scale(1,1.1)" font-size="7.9" fill="#231f20">40</text>
<rect x="158.15" y="310.40" width="7.70" height="30.00" fill="#9b9b9b"/>
<text x="0" y="0" transform="translate(162.00,307.90) scale(1,1.1)" font-size="7.9" fill="#231f20" text-anchor="middle">176</text>
<line x1="162.00" y1="340.40" x2="162.00" y2="342.60" stroke="#8c8c8c" stroke-width="0.8"/>
<rect x="170.35" y="268.60" width="7.70" height="71.80" fill="#0e6db4"/>
<text x="0" y="0" transform="translate(174.20,266.10) scale(1,1.1)" font-size="7.9" fill="#231f20" text-anchor="middle">28</text>
<line x1="174.20" y1="340.40" x2="174.20" y2="342.60" stroke="#8c8c8c" stroke-width="0.8"/>
<rect x="182.15" y="261.00" width="7.70" height="79.40" fill="#0e6db4"/>
<text x="0" y="0" transform="translate(186.00,258.50) scale(1,1.1)" font-size="7.9" fill="#231f20" text-anchor="middle">20</text>
<line x1="186.00" y1="340.40" x2="186.00" y2="342.60" stroke="#8c8c8c" stroke-width="0.8"/>
<rect x="193.95" y="246.20" width="7.70" height="94.20" fill="#0e6db4"/>
<text x="0" y="0" transform="translate(197.80,243.70) scale(1,1.1)" font-size="7.9" fill="#231f20" text-anchor="middle">38</text>
<line x1="197.80" y1="340.40" x2="197.80" y2="342.60" stroke="#8c8c8c" stroke-width="0.8"/>
<rect x="205.75" y="234.50" width="7.70" height="105.90" fill="#0e6db4"/>
<text x="0" y="0" transform="translate(209.60,232.00) scale(1,1.1)" font-size="7.9" fill="#231f20" text-anchor="middle">16</text>
<line x1="209.60" y1="340.40" x2="209.60" y2="342.60" stroke="#8c8c8c" stroke-width="0.8"/>
<rect x="217.15" y="234.50" width="7.70" height="105.90" fill="#0e6db4"/>
<text x="0" y="0" transform="translate(221.00,232.00) scale(1,1.1)" font-size="7.9" fill="#231f20" text-anchor="middle">12</text>
<line x1="221.00" y1="340.40" x2="221.00" y2="342.60" stroke="#8c8c8c" stroke-width="0.8"/>
<polyline points="162.00,318.66 174.20,315.37 186.00,306.14 197.80,303.51 209.60,282.43 221.00,259.37" fill="none" stroke="#000" stroke-width="0.9" stroke-linejoin="round"/>
<line x1="162.00" y1="314.05" x2="162.00" y2="323.27" stroke="#000" stroke-width="0.9"/>
<line x1="160.40" y1="314.05" x2="163.60" y2="314.05" stroke="#000" stroke-width="0.9"/>
<line x1="160.40" y1="323.27" x2="163.60" y2="323.27" stroke="#000" stroke-width="0.9"/>
<circle cx="162.00" cy="318.66" r="1.45" fill="#000"/>
<line x1="174.20" y1="307.46" x2="174.20" y2="322.61" stroke="#000" stroke-width="0.9"/>
<line x1="172.60" y1="307.46" x2="175.80" y2="307.46" stroke="#000" stroke-width="0.9"/>
<line x1="172.60" y1="322.61" x2="175.80" y2="322.61" stroke="#000" stroke-width="0.9"/>
<circle cx="174.20" cy="315.37" r="1.45" fill="#000"/>
<line x1="186.00" y1="299.56" x2="186.00" y2="312.73" stroke="#000" stroke-width="0.9"/>
<line x1="184.40" y1="299.56" x2="187.60" y2="299.56" stroke="#000" stroke-width="0.9"/>
<line x1="184.40" y1="312.73" x2="187.60" y2="312.73" stroke="#000" stroke-width="0.9"/>
<circle cx="186.00" cy="306.14" r="1.45" fill="#000"/>
<line x1="197.80" y1="294.95" x2="197.80" y2="316.03" stroke="#000" stroke-width="0.9"/>
<line x1="196.20" y1="294.95" x2="199.40" y2="294.95" stroke="#000" stroke-width="0.9"/>
<line x1="196.20" y1="316.03" x2="199.40" y2="316.03" stroke="#000" stroke-width="0.9"/>
<circle cx="197.80" cy="303.51" r="1.45" fill="#000"/>
<line x1="209.60" y1="277.82" x2="209.60" y2="288.36" stroke="#000" stroke-width="0.9"/>
<line x1="208.00" y1="277.82" x2="211.20" y2="277.82" stroke="#000" stroke-width="0.9"/>
<line x1="208.00" y1="288.36" x2="211.20" y2="288.36" stroke="#000" stroke-width="0.9"/>
<circle cx="209.60" cy="282.43" r="1.45" fill="#000"/>
<line x1="221.00" y1="245.54" x2="221.00" y2="277.16" stroke="#000" stroke-width="0.9"/>
<line x1="219.40" y1="245.54" x2="222.60" y2="245.54" stroke="#000" stroke-width="0.9"/>
<line x1="219.40" y1="277.16" x2="222.60" y2="277.16" stroke="#000" stroke-width="0.9"/>
<circle cx="221.00" cy="259.37" r="1.45" fill="#000"/>
<text x="0" y="0" font-size="7.9" fill="#231f20" text-anchor="end" transform="translate(165.60,349.00) rotate(-45)">0</text>
<text x="0" y="0" font-size="7.9" fill="#231f20" text-anchor="end" transform="translate(177.80,349.00) rotate(-45)">1</text>
<text x="0" y="0" font-size="7.9" fill="#231f20" text-anchor="end" transform="translate(189.60,349.00) rotate(-45)">2</text>
<text x="0" y="0" font-size="7.9" fill="#231f20" text-anchor="end" transform="translate(201.40,349.00) rotate(-45)">3–9</text>
<text x="0" y="0" font-size="7.9" fill="#231f20" text-anchor="end" transform="translate(213.20,349.00) rotate(-45)">10–100</text>
<text x="0" y="0" font-size="7.9" fill="#231f20" text-anchor="end" transform="translate(224.60,349.00) rotate(-45)">>100</text>
<text x="0" y="0" transform="translate(191.30,380.50) scale(1,1.1)" font-size="7.9" fill="#231f20" text-anchor="middle">EBV read count</text>
<text x="0" y="0" font-size="7.9" fill="#231f20" text-anchor="middle" transform="translate(130.10,287.70) rotate(-90) scale(1,1.1)">Positive replicates (%)</text>
<text x="0" y="0" font-size="7.9" fill="#231f20" text-anchor="middle" transform="translate(252.50,287.70) rotate(90) scale(1,1.1)">Average Cp value</text>
<text x="0" y="0" transform="translate(275.20,223.00) scale(1,1.1)" font-size="10.5" fill="#000" font-weight="bold" stroke="#000" stroke-width="0.35">f</text>
<line x1="304.30" y1="234.20" x2="304.30" y2="340.90" stroke="#8c8c8c" stroke-width="0.9"/>
<line x1="379.10" y1="234.20" x2="379.10" y2="340.90" stroke="#8c8c8c" stroke-width="0.9"/>
<line x1="304.30" y1="340.50" x2="379.10" y2="340.50" stroke="#8c8c8c" stroke-width="0.9"/>
<line x1="301.90" y1="340.50" x2="304.30" y2="340.50" stroke="#8c8c8c" stroke-width="0.8"/>
<text x="0" y="0" transform="translate(298.80,343.30) scale(1,1.1)" font-size="7.9" fill="#231f20" text-anchor="end">0</text>
<line x1="301.90" y1="313.93" x2="304.30" y2="313.93" stroke="#8c8c8c" stroke-width="0.8"/>
<text x="0" y="0" transform="translate(298.80,316.73) scale(1,1.1)" font-size="7.9" fill="#231f20" text-anchor="end">25</text>
<line x1="301.90" y1="287.35" x2="304.30" y2="287.35" stroke="#8c8c8c" stroke-width="0.8"/>
<text x="0" y="0" transform="translate(298.80,290.15) scale(1,1.1)" font-size="7.9" fill="#231f20" text-anchor="end">50</text>
<line x1="301.90" y1="260.77" x2="304.30" y2="260.77" stroke="#8c8c8c" stroke-width="0.8"/>
<text x="0" y="0" transform="translate(298.80,263.57) scale(1,1.1)" font-size="7.9" fill="#231f20" text-anchor="end">75</text>
<line x1="301.90" y1="234.20" x2="304.30" y2="234.20" stroke="#8c8c8c" stroke-width="0.8"/>
<text x="0" y="0" transform="translate(298.80,237.00) scale(1,1.1)" font-size="7.9" fill="#231f20" text-anchor="end">100</text>
<line x1="379.10" y1="234.20" x2="381.50" y2="234.20" stroke="#8c8c8c" stroke-width="0.8"/>
<text x="0" y="0" transform="translate(385.40,237.00) scale(1,1.1)" font-size="7.9" fill="#231f20">24</text>
<line x1="379.10" y1="247.49" x2="381.50" y2="247.49" stroke="#8c8c8c" stroke-width="0.8"/>
<text x="0" y="0" transform="translate(385.40,250.29) scale(1,1.1)" font-size="7.9" fill="#231f20">26</text>
<line x1="379.10" y1="260.77" x2="381.50" y2="260.77" stroke="#8c8c8c" stroke-width="0.8"/>
<text x="0" y="0" transform="translate(385.40,263.57) scale(1,1.1)" font-size="7.9" fill="#231f20">28</text>
<line x1="379.10" y1="274.06" x2="381.50" y2="274.06" stroke="#8c8c8c" stroke-width="0.8"/>
<text x="0" y="0" transform="translate(385.40,276.86) scale(1,1.1)" font-size="7.9" fill="#231f20">30</text>
<line x1="379.10" y1="287.35" x2="381.50" y2="287.35" stroke="#8c8c8c" stroke-width="0.8"/>
<text x="0" y="0" transform="translate(385.40,290.15) scale(1,1.1)" font-size="7.9" fill="#231f20">32</text>
<line x1="379.10" y1="300.64" x2="381.50" y2="300.64" stroke="#8c8c8c" stroke-width="0.8"/>
<text x="0" y="0" transform="translate(385.40,303.44) scale(1,1.1)" font-size="7.9" fill="#231f20">34</text>
<line x1="379.10" y1="313.93" x2="381.50" y2="313.93" stroke="#8c8c8c" stroke-width="0.8"/>
<text x="0" y="0" transform="translate(385.40,316.73) scale(1,1.1)" font-size="7.9" fill="#231f20">36</text>
<line x1="379.10" y1="327.21" x2="381.50" y2="327.21" stroke="#8c8c8c" stroke-width="0.8"/>
<text x="0" y="0" transform="translate(385.40,330.01) scale(1,1.1)" font-size="7.9" fill="#231f20">38</text>
<line x1="379.10" y1="340.50" x2="381.50" y2="340.50" stroke="#8c8c8c" stroke-width="0.8"/>
<text x="0" y="0" transform="translate(385.40,343.30) scale(1,1.1)" font-size="7.9" fill="#231f20">40</text>
<rect x="307.15" y="289.90" width="7.70" height="50.60" fill="#9b9b9b"/>
<text x="0" y="0" transform="translate(311.00,287.40) scale(1,1.1)" font-size="7.9" fill="#231f20" text-anchor="middle">468</text>
<line x1="311.00" y1="340.50" x2="311.00" y2="342.70" stroke="#8c8c8c" stroke-width="0.8"/>
<rect x="319.15" y="287.10" width="7.70" height="53.40" fill="#0e6db4"/>
<text x="0" y="0" transform="translate(323.00,284.60) scale(1,1.1)" font-size="7.9" fill="#231f20" text-anchor="middle">105</text>
<line x1="323.00" y1="340.50" x2="323.00" y2="342.70" stroke="#8c8c8c" stroke-width="0.8"/>
<rect x="330.85" y="280.00" width="7.70" height="60.50" fill="#0e6db4"/>
<text x="0" y="0" transform="translate(334.70,277.50) scale(1,1.1)" font-size="7.9" fill="#231f20" text-anchor="middle">48</text>
<line x1="334.70" y1="340.50" x2="334.70" y2="342.70" stroke="#8c8c8c" stroke-width="0.8"/>
<rect x="342.75" y="258.80" width="7.70" height="81.70" fill="#0e6db4"/>
<text x="0" y="0" transform="translate(346.60,256.30) scale(1,1.1)" font-size="7.9" fill="#231f20" text-anchor="middle">102</text>
<line x1="346.60" y1="340.50" x2="346.60" y2="342.70" stroke="#8c8c8c" stroke-width="0.8"/>
<rect x="354.55" y="239.00" width="7.70" height="101.50" fill="#0e6db4"/>
<text x="0" y="0" transform="translate(358.40,236.50) scale(1,1.1)" font-size="7.9" fill="#231f20" text-anchor="middle">60</text>
<line x1="358.40" y1="340.50" x2="358.40" y2="342.70" stroke="#8c8c8c" stroke-width="0.8"/>
<rect x="366.15" y="233.80" width="7.70" height="106.70" fill="#0e6db4"/>
<text x="0" y="0" transform="translate(370.00,231.30) scale(1,1.1)" font-size="7.9" fill="#231f20" text-anchor="middle">3</text>
<line x1="370.00" y1="340.50" x2="370.00" y2="342.70" stroke="#8c8c8c" stroke-width="0.8"/>
<polyline points="311.00,309.94 323.00,310.60 334.70,309.27 346.60,307.28 358.40,301.30 370.00,275.39" fill="none" stroke="#000" stroke-width="0.9" stroke-linejoin="round"/>
<line x1="311.00" y1="302.63" x2="311.00" y2="317.91" stroke="#000" stroke-width="0.9"/>
<line x1="309.40" y1="302.63" x2="312.60" y2="302.63" stroke="#000" stroke-width="0.9"/>
<line x1="309.40" y1="317.91" x2="312.60" y2="317.91" stroke="#000" stroke-width="0.9"/>
<circle cx="311.00" cy="309.94" r="1.45" fill="#000"/>
<line x1="323.00" y1="301.30" x2="323.00" y2="317.91" stroke="#000" stroke-width="0.9"/>
<line x1="321.40" y1="301.30" x2="324.60" y2="301.30" stroke="#000" stroke-width="0.9"/>
<line x1="321.40" y1="317.91" x2="324.60" y2="317.91" stroke="#000" stroke-width="0.9"/>
<circle cx="323.00" cy="310.60" r="1.45" fill="#000"/>
<line x1="334.70" y1="305.29" x2="334.70" y2="313.26" stroke="#000" stroke-width="0.9"/>
<line x1="333.10" y1="305.29" x2="336.30" y2="305.29" stroke="#000" stroke-width="0.9"/>
<line x1="333.10" y1="313.26" x2="336.30" y2="313.26" stroke="#000" stroke-width="0.9"/>
<circle cx="334.70" cy="309.27" r="1.45" fill="#000"/>
<line x1="346.60" y1="301.30" x2="346.60" y2="313.26" stroke="#000" stroke-width="0.9"/>
<line x1="345.00" y1="301.30" x2="348.20" y2="301.30" stroke="#000" stroke-width="0.9"/>
<line x1="345.00" y1="313.26" x2="348.20" y2="313.26" stroke="#000" stroke-width="0.9"/>
<circle cx="346.60" cy="307.28" r="1.45" fill="#000"/>
<line x1="358.40" y1="296.65" x2="358.40" y2="307.28" stroke="#000" stroke-width="0.9"/>
<line x1="356.80" y1="296.65" x2="360.00" y2="296.65" stroke="#000" stroke-width="0.9"/>
<line x1="356.80" y1="307.28" x2="360.00" y2="307.28" stroke="#000" stroke-width="0.9"/>
<circle cx="358.40" cy="301.30" r="1.45" fill="#000"/>
<circle cx="370.00" cy="275.39" r="1.45" fill="#000"/>
<text x="0" y="0" font-size="7.9" fill="#231f20" text-anchor="end" transform="translate(314.60,349.10) rotate(-45)">0</text>
<text x="0" y="0" font-size="7.9" fill="#231f20" text-anchor="end" transform="translate(326.60,349.10) rotate(-45)">1</text>
<text x="0" y="0" font-size="7.9" fill="#231f20" text-anchor="end" transform="translate(338.30,349.10) rotate(-45)">2</text>
<text x="0" y="0" font-size="7.9" fill="#231f20" text-anchor="end" transform="translate(350.20,349.10) rotate(-45)">3–9</text>
<text x="0" y="0" font-size="7.9" fill="#231f20" text-anchor="end" transform="translate(362.00,349.10) rotate(-45)">10–100</text>
<text x="0" y="0" font-size="7.9" fill="#231f20" text-anchor="end" transform="translate(373.60,349.10) rotate(-45)">>100</text>
<text x="0" y="0" transform="translate(341.30,380.50) scale(1,1.1)" font-size="7.9" fill="#231f20" text-anchor="middle">EBV read count</text>
<text x="0" y="0" font-size="7.9" fill="#231f20" text-anchor="middle" transform="translate(280.50,287.70) rotate(-90) scale(1,1.1)">Positive replicates (%)</text>
<text x="0" y="0" font-size="7.9" fill="#231f20" text-anchor="middle" transform="translate(403.50,287.70) rotate(90) scale(1,1.1)">Average Cp value</text>
<text x="0" y="0" transform="translate(421.00,222.50) scale(1,1.1)" font-size="10.5" fill="#000" font-weight="bold" stroke="#000" stroke-width="0.35">g</text>
<line x1="454.70" y1="234.10" x2="454.70" y2="340.80" stroke="#c4c4c4" stroke-width="1.3"/>
<line x1="452.80" y1="340.40" x2="490.60" y2="340.40" stroke="#8c8c8c" stroke-width="0.9"/>
<line x1="452.30" y1="340.40" x2="454.70" y2="340.40" stroke="#8c8c8c" stroke-width="0.8"/>
<text x="0" y="0" transform="translate(448.30,343.20) scale(1,1.1)" font-size="7.9" fill="#231f20" text-anchor="end">0</text>
<line x1="452.30" y1="313.82" x2="454.70" y2="313.82" stroke="#8c8c8c" stroke-width="0.8"/>
<text x="0" y="0" transform="translate(448.30,316.62) scale(1,1.1)" font-size="7.9" fill="#231f20" text-anchor="end">25</text>
<line x1="452.30" y1="287.25" x2="454.70" y2="287.25" stroke="#8c8c8c" stroke-width="0.8"/>
<text x="0" y="0" transform="translate(448.30,290.05) scale(1,1.1)" font-size="7.9" fill="#231f20" text-anchor="end">50</text>
<line x1="452.30" y1="260.68" x2="454.70" y2="260.68" stroke="#8c8c8c" stroke-width="0.8"/>
<text x="0" y="0" transform="translate(448.30,263.48) scale(1,1.1)" font-size="7.9" fill="#231f20" text-anchor="end">75</text>
<line x1="452.30" y1="234.10" x2="454.70" y2="234.10" stroke="#8c8c8c" stroke-width="0.8"/>
<text x="0" y="0" transform="translate(448.30,236.90) scale(1,1.1)" font-size="7.9" fill="#231f20" text-anchor="end">100</text>
<rect x="457.45" y="329.70" width="7.70" height="10.70" fill="#9b9b9b"/>
<line x1="461.30" y1="340.40" x2="461.30" y2="342.60" stroke="#8c8c8c" stroke-width="0.8"/>
<text x="0" y="0" font-size="7.9" fill="#231f20" text-anchor="end" transform="translate(466.30,351.00) rotate(-45)">0</text>
<rect x="468.65" y="313.40" width="7.70" height="27.00" fill="#0e6db4"/>
<line x1="472.50" y1="340.40" x2="472.50" y2="342.60" stroke="#8c8c8c" stroke-width="0.8"/>
<text x="0" y="0" font-size="7.9" fill="#231f20" text-anchor="end" transform="translate(477.50,351.00) rotate(-45)">1</text>
<rect x="480.15" y="270.00" width="7.70" height="70.40" fill="#0e6db4"/>
<line x1="484.00" y1="340.40" x2="484.00" y2="342.60" stroke="#8c8c8c" stroke-width="0.8"/>
<text x="0" y="0" font-size="7.9" fill="#231f20" text-anchor="end" transform="translate(489.00,351.00) rotate(-45)">≥2</text>
<text x="0" y="0" transform="translate(473.40,371.20) scale(1,1.1)" font-size="7.9" fill="#231f20" text-anchor="middle">EBV read count</text>
<text x="0" y="0" font-size="7.9" fill="#231f20" text-anchor="middle" transform="translate(427.20,288.80) rotate(-90) scale(1,1.1)">Presence of EBV transcripts (%)</text>
<line x1="543.30" y1="232.40" x2="543.30" y2="349.30" stroke="#ececec" stroke-width="0.6"/>
<line x1="561.94" y1="232.40" x2="561.94" y2="349.30" stroke="#ececec" stroke-width="0.6"/>
<line x1="580.58" y1="232.40" x2="580.58" y2="349.30" stroke="#ececec" stroke-width="0.6"/>
<line x1="599.22" y1="232.40" x2="599.22" y2="349.30" stroke="#ececec" stroke-width="0.6"/>
<line x1="617.86" y1="232.40" x2="617.86" y2="349.30" stroke="#ececec" stroke-width="0.6"/>
<line x1="636.50" y1="232.40" x2="636.50" y2="349.30" stroke="#ececec" stroke-width="0.6"/>
<line x1="655.15" y1="232.40" x2="655.15" y2="349.30" stroke="#ececec" stroke-width="0.6"/>
<line x1="671.40" y1="232.40" x2="671.40" y2="349.30" stroke="#ececec" stroke-width="0.6"/>
<line x1="538.30" y1="337.00" x2="682.60" y2="337.00" stroke="#a8a8a8" stroke-width="0.8" stroke-dasharray="1.2,1.8"/>
<line x1="538.30" y1="231.20" x2="538.30" y2="349.70" stroke="#8c8c8c" stroke-width="0.9"/>
<line x1="538.30" y1="349.30" x2="682.60" y2="349.30" stroke="#8c8c8c" stroke-width="0.9"/>
<line x1="536.00" y1="337.00" x2="538.30" y2="337.00" stroke="#8c8c8c" stroke-width="0.8"/>
<text x="0" y="0" transform="translate(531.70,339.80) scale(1,1.1)" font-size="7.9" fill="#231f20" text-anchor="end">0</text>
<line x1="536.00" y1="315.45" x2="538.30" y2="315.45" stroke="#8c8c8c" stroke-width="0.8"/>
<text x="0" y="0" transform="translate(531.70,318.25) scale(1,1.1)" font-size="7.9" fill="#231f20" text-anchor="end">0.1</text>
<line x1="536.00" y1="293.90" x2="538.30" y2="293.90" stroke="#8c8c8c" stroke-width="0.8"/>
<text x="0" y="0" transform="translate(531.70,296.70) scale(1,1.1)" font-size="7.9" fill="#231f20" text-anchor="end">0.2</text>
<line x1="536.00" y1="272.35" x2="538.30" y2="272.35" stroke="#8c8c8c" stroke-width="0.8"/>
<text x="0" y="0" transform="translate(531.70,275.15) scale(1,1.1)" font-size="7.9" fill="#231f20" text-anchor="end">0.3</text>
<line x1="536.00" y1="250.80" x2="538.30" y2="250.80" stroke="#8c8c8c" stroke-width="0.8"/>
<text x="0" y="0" transform="translate(531.70,253.60) scale(1,1.1)" font-size="7.9" fill="#231f20" text-anchor="end">0.4</text>
<line x1="543.30" y1="349.30" x2="543.30" y2="351.50" stroke="#8c8c8c" stroke-width="0.8"/>
<text x="0" y="0" transform="translate(543.30,361.60) scale(1,1.1)" font-size="7.6" fill="#231f20" text-anchor="middle">0</text>
<line x1="561.94" y1="349.30" x2="561.94" y2="351.50" stroke="#8c8c8c" stroke-width="0.8"/>
<text x="0" y="0" transform="translate(561.94,361.60) scale(1,1.1)" font-size="7.6" fill="#231f20" text-anchor="middle">25</text>
<line x1="580.58" y1="349.30" x2="580.58" y2="351.50" stroke="#8c8c8c" stroke-width="0.8"/>
<text x="0" y="0" transform="translate(580.58,361.60) scale(1,1.1)" font-size="7.6" fill="#231f20" text-anchor="middle">50</text>
<line x1="599.22" y1="349.30" x2="599.22" y2="351.50" stroke="#8c8c8c" stroke-width="0.8"/>
<text x="0" y="0" transform="translate(599.22,361.60) scale(1,1.1)" font-size="7.6" fill="#231f20" text-anchor="middle">75</text>
<line x1="617.86" y1="349.30" x2="617.86" y2="351.50" stroke="#8c8c8c" stroke-width="0.8"/>
<text x="0" y="0" transform="translate(617.86,361.60) scale(1,1.1)" font-size="7.6" fill="#231f20" text-anchor="middle">100</text>
<line x1="636.50" y1="349.30" x2="636.50" y2="351.50" stroke="#8c8c8c" stroke-width="0.8"/>
<text x="0" y="0" transform="translate(636.50,361.60) scale(1,1.1)" font-size="7.6" fill="#231f20" text-anchor="middle">125</text>
<line x1="655.15" y1="349.30" x2="655.15" y2="351.50" stroke="#8c8c8c" stroke-width="0.8"/>
<text x="0" y="0" transform="translate(655.15,361.60) scale(1,1.1)" font-size="7.6" fill="#231f20" text-anchor="middle">150</text>
<line x1="671.40" y1="349.30" x2="671.40" y2="351.50" stroke="#8c8c8c" stroke-width="0.8"/>
<text x="0" y="0" transform="translate(674.00,361.60) scale(1,1.1)" font-size="7.6" fill="#231f20" text-anchor="middle">171.8</text>
<text x="0" y="0" transform="translate(610.40,374.60) scale(1,1.1)" font-size="7.9" fill="#231f20" text-anchor="middle">Position in the EBV genome (kb)</text>
<text x="0" y="0" font-size="7.9" fill="#231f20" text-anchor="middle" transform="translate(512.40,291.70) rotate(-90) scale(1,1.1)">Spearman’s <tspan font-style="italic">ρ</tspan></text>
<rect x="545.10" y="307.95" width="2.90" height="1.7" fill="#e9592b"/>
<rect x="571.70" y="302.05" width="2.20" height="1.7" fill="#c68f17"/>
<rect x="578.30" y="317.55" width="2.30" height="1.9" fill="#b4b4b4"/>
<rect x="552.20" y="323.25" width="57.70" height="1.9" fill="#b4b4b4"/>
<rect x="552.20" y="334.15" width="19.30" height="1.9" fill="#b4b4b4"/>
<rect x="581.00" y="333.85" width="6.70" height="1.9" fill="#b4b4b4"/>
<rect x="580.60" y="307.55" width="9.50" height="1.7" fill="#e9592b"/>
<rect x="591.00" y="307.15" width="2.00" height="1.7" fill="#c68f17"/>
<rect x="590.10" y="317.05" width="2.90" height="1.7" fill="#e9592b"/>
<rect x="594.00" y="304.65" width="1.70" height="1.7" fill="#c68f17"/>
<rect x="594.40" y="300.75" width="1.30" height="1.7" fill="#e9592b"/>
<rect x="596.10" y="288.25" width="1.10" height="1.7" fill="#c68f17"/>
<rect x="599.00" y="317.05" width="1.50" height="1.7" fill="#c68f17"/>
<rect x="596.60" y="341.05" width="2.40" height="1.9" fill="#b4b4b4"/>
<rect x="601.40" y="326.65" width="1.40" height="1.9" fill="#b4b4b4"/>
<rect x="609.90" y="305.25" width="1.90" height="1.7" fill="#c68f17"/>
<rect x="609.90" y="315.25" width="3.90" height="1.7" fill="#c68f17"/>
<rect x="612.20" y="343.05" width="1.00" height="1.9" fill="#b4b4b4"/>
<rect x="656.00" y="280.95" width="4.10" height="1.7" fill="#c68f17"/>
<rect x="654.80" y="287.25" width="1.10" height="1.7" fill="#c68f17"/>
<rect x="663.00" y="294.85" width="3.00" height="1.7" fill="#c68f17"/>
<rect x="669.80" y="312.55" width="6.10" height="1.7" fill="#4b3d9a"/>
<rect x="667.40" y="315.05" width="8.50" height="1.7" fill="#4b3d9a"/>
<rect x="616.80" y="313.15" width="1.50" height="1.7" fill="#c68f17"/>
<rect x="616.90" y="306.05" width="1.00" height="1.7" fill="#e9592b"/>
<rect x="624.00" y="307.05" width="2.10" height="1.7" fill="#c68f17"/>
<rect x="627.30" y="322.05" width="4.40" height="1.7" fill="#e9592b"/>
<rect x="624.60" y="325.25" width="2.90" height="1.9" fill="#b4b4b4"/>
<rect x="624.60" y="327.85" width="2.90" height="1.9" fill="#b4b4b4"/>
<rect x="633.40" y="323.25" width="3.60" height="1.9" fill="#b4b4b4"/>
<rect x="639.40" y="322.95" width="3.50" height="1.9" fill="#b4b4b4"/>
<rect x="644.00" y="323.25" width="3.00" height="1.9" fill="#b4b4b4"/>
<rect x="654.20" y="322.75" width="3.50" height="1.7" fill="#c68f17"/>
<rect x="631.70" y="330.65" width="1.20" height="1.9" fill="#b4b4b4"/>
<rect x="648.30" y="330.65" width="2.30" height="1.9" fill="#b4b4b4"/>
<rect x="616.30" y="340.95" width="1.50" height="1.9" fill="#b4b4b4"/>
<rect x="612.40" y="343.25" width="1.10" height="1.9" fill="#b4b4b4"/>
<rect x="659.30" y="235.75" width="3.80" height="1.7" fill="#4b3d9a"/>
<rect x="646.70" y="242.65" width="16.40" height="1.7" fill="#4b3d9a"/>
<rect x="660.10" y="264.75" width="3.30" height="1.7" fill="#e9592b"/>
<rect x="660.10" y="268.65" width="1.90" height="1.7" fill="#e9592b"/>
<rect x="656.20" y="280.75" width="3.90" height="1.7" fill="#c68f17"/>
<rect x="553.50" y="336.0" width="0.7" height="1.3" fill="#b0b0b0"/>
<rect x="556.00" y="336.0" width="0.7" height="1.3" fill="#b0b0b0"/>
<rect x="558.50" y="336.0" width="0.7" height="1.3" fill="#b0b0b0"/>
<rect x="561.00" y="336.0" width="0.7" height="1.3" fill="#b0b0b0"/>
<rect x="563.50" y="336.0" width="0.7" height="1.3" fill="#b0b0b0"/>
<rect x="566.00" y="336.0" width="0.7" height="1.3" fill="#b0b0b0"/>
<rect x="568.50" y="336.0" width="0.7" height="1.3" fill="#b0b0b0"/>
<rect x="571.00" y="336.0" width="0.7" height="1.3" fill="#b0b0b0"/>
<rect x="576.2" y="325.1" width="0.7" height="1.6" fill="#b0b0b0"/>
<line x1="663.10" y1="243.50" x2="663.10" y2="246.70" stroke="#4b3d9a" stroke-width="0.8"/>
<circle cx="668.6" cy="303.3" r="1.1" fill="#4b3d9a"/>
<rect x="548.2" y="318.6" width="0.8" height="1.4" fill="#c0bce0"/>
<path d="M619.6,322.5 L620.9,324.5" stroke="#b4b4b4" stroke-width="1"/>
<text x="0" y="0" transform="translate(655.00,237.80) scale(1,1.1)" font-size="7.9" fill="#231f20" text-anchor="end" font-style="italic">A73</text>
<text x="0" y="0" transform="translate(642.70,244.90) scale(1,1.1)" font-size="7.9" fill="#231f20" text-anchor="end" font-style="italic">RPMS1</text>
<text x="0" y="0" transform="translate(660.70,252.60) scale(1,1.1)" font-size="7.9" fill="#231f20" text-anchor="end" font-style="italic">BARF0</text>
<text x="0" y="0" transform="translate(662.20,263.30) scale(1,1.1)" font-size="7.9" fill="#231f20" text-anchor="end" font-style="italic">BALF3</text>
<text x="0" y="0" transform="translate(657.50,272.70) scale(1,1.1)" font-size="7.9" fill="#231f20" text-anchor="end" font-style="italic">BALF4</text>
<text x="0" y="0" transform="translate(653.00,282.20) scale(1,1.1)" font-size="7.9" fill="#231f20" text-anchor="end" font-style="italic">BALF5</text>
<text x="0" y="0" transform="translate(652.20,292.10) scale(1,1.1)" font-size="7.9" fill="#231f20" text-anchor="end" font-style="italic">LF2</text>
<text x="0" y="0" transform="translate(543.20,286.50) scale(1,1.1)" font-size="7.9" fill="#231f20" font-style="italic">BSLF2/BMLF1</text>
<text x="0" y="0" transform="translate(543.80,236.10) scale(1,1.1)" font-size="7.9" fill="#231f20">Life cycle</text>
<rect x="545.00" y="240.90" width="6.70" height="1.90" fill="#c68f17"/>
<text x="0" y="0" transform="translate(555.70,244.50) scale(1,1.1)" font-size="7.9" fill="#231f20">Early lytic</text>
<rect x="545.00" y="248.75" width="6.70" height="1.90" fill="#e9592b"/>
<text x="0" y="0" transform="translate(555.70,252.35) scale(1,1.1)" font-size="7.9" fill="#231f20">Late lytic</text>
<rect x="545.00" y="256.60" width="6.70" height="1.90" fill="#4b3d9a"/>
<text x="0" y="0" transform="translate(555.70,260.20) scale(1,1.1)" font-size="7.9" fill="#231f20">Latent</text>
<rect x="545.00" y="264.45" width="6.70" height="1.90" fill="#b4b4b4"/>
<text x="0" y="0" transform="translate(555.70,268.05) scale(1,1.1)" font-size="7.9" fill="#231f20">Not significant</text>
<text x="0" y="0" transform="translate(125.30,399.60) scale(1,1.1)" font-size="10.5" fill="#000" font-weight="bold" stroke="#000" stroke-width="0.35">h</text>
<line x1="203.60" y1="397.80" x2="203.60" y2="501.20" stroke="#8c8c8c" stroke-width="0.9"/>
<line x1="203.60" y1="500.90" x2="342.60" y2="500.90" stroke="#8c8c8c" stroke-width="0.9"/>
<line x1="209.80" y1="500.90" x2="209.80" y2="503.10" stroke="#8c8c8c" stroke-width="0.8"/>
<text x="0" y="0" transform="translate(209.80,513.50) scale(1,1.1)" font-size="7.9" fill="#231f20" text-anchor="middle">0</text>
<line x1="235.20" y1="500.90" x2="235.20" y2="503.10" stroke="#8c8c8c" stroke-width="0.8"/>
<text x="0" y="0" transform="translate(235.20,513.50) scale(1,1.1)" font-size="7.9" fill="#231f20" text-anchor="middle">0.1</text>
<line x1="260.60" y1="500.90" x2="260.60" y2="503.10" stroke="#8c8c8c" stroke-width="0.8"/>
<text x="0" y="0" transform="translate(260.60,513.50) scale(1,1.1)" font-size="7.9" fill="#231f20" text-anchor="middle">0.2</text>
<line x1="286.00" y1="500.90" x2="286.00" y2="503.10" stroke="#8c8c8c" stroke-width="0.8"/>
<text x="0" y="0" transform="translate(286.00,513.50) scale(1,1.1)" font-size="7.9" fill="#231f20" text-anchor="middle">0.3</text>
<line x1="311.40" y1="500.90" x2="311.40" y2="503.10" stroke="#8c8c8c" stroke-width="0.8"/>
<text x="0" y="0" transform="translate(311.40,513.50) scale(1,1.1)" font-size="7.9" fill="#231f20" text-anchor="middle">0.4</text>
<line x1="336.80" y1="500.90" x2="336.80" y2="503.10" stroke="#8c8c8c" stroke-width="0.8"/>
<text x="0" y="0" transform="translate(336.80,513.50) scale(1,1.1)" font-size="7.9" fill="#231f20" text-anchor="middle">0.5</text>
<text x="0" y="0" transform="translate(272.80,528.40) scale(1,1.1)" font-size="7.9" fill="#231f20" text-anchor="middle">Prevalence of EBVread<tspan font-size="5" dy="-3.2">+</tspan></text>
<text x="0" y="0" transform="translate(198.20,411.30) scale(1,1.1)" font-size="7.9" fill="#231f20" text-anchor="end">Other</text>
<text x="0" y="0" transform="translate(198.20,420.90) scale(1,1.1)" font-size="7.9" fill="#231f20" text-anchor="end">immunosuppressive</text>
<text x="0" y="0" transform="translate(198.20,430.30) scale(1,1.1)" font-size="7.9" fill="#231f20" text-anchor="end">drug</text>
<text x="0" y="0" transform="translate(198.20,449.00) scale(1,1.1)" font-size="7.9" fill="#231f20" text-anchor="end">Reported HIV</text>
<text x="0" y="0" transform="translate(198.20,482.40) scale(1,1.1)" font-size="7.9" fill="#231f20" text-anchor="end">Glucocorticoids</text>
<text x="0" y="0" transform="translate(208.90,406.70) scale(1,1.1)" font-size="7.9" fill="#e9592b">Yes</text>
<text x="0" y="0" transform="translate(208.90,423.20) scale(1,1.1)" font-size="7.9" fill="#231f20">No</text>
<text x="0" y="0" transform="translate(208.90,439.80) scale(1,1.1)" font-size="7.9" fill="#e9592b">Yes</text>
<text x="0" y="0" transform="translate(208.90,456.50) scale(1,1.1)" font-size="7.9" fill="#231f20">No</text>
<text x="0" y="0" transform="translate(208.90,473.00) scale(1,1.1)" font-size="7.9" fill="#e9592b">Yes</text>
<text x="0" y="0" transform="translate(208.90,489.90) scale(1,1.1)" font-size="7.9" fill="#231f20">No</text>
<line x1="251.00" y1="405.10" x2="259.60" y2="405.10" stroke="#e9592b" stroke-width="1.8"/>
<rect x="254.20" y="397.10" width="3.60" height="16.00" fill="#e9592b" rx="0.8"/>
<circle cx="252.00" cy="405.10" r="2.0" fill="#e9592b"/>
<line x1="248.00" y1="421.50" x2="251.50" y2="421.50" stroke="#000" stroke-width="1.8"/>
<rect x="247.10" y="414.35" width="3.60" height="14.30" fill="#000" rx="0.8"/>
<circle cx="250.80" cy="421.50" r="2.0" fill="#000"/>
<rect x="304.7" y="431.9" width="11.3" height="14.1" fill="none" stroke="#e9592b" stroke-width="1.4"/>
<line x1="310.20" y1="431.90" x2="310.20" y2="446.00" stroke="#e9592b" stroke-width="1.9"/>
<line x1="284.00" y1="438.90" x2="304.70" y2="438.90" stroke="#e9592b" stroke-width="1.4"/>
<line x1="316.00" y1="438.90" x2="333.60" y2="438.90" stroke="#e9592b" stroke-width="1.4"/>
<rect x="281.3" y="437.0" width="6.6" height="3.8" rx="1.9" fill="#e9592b"/>
<line x1="248.00" y1="455.20" x2="251.80" y2="455.20" stroke="#000" stroke-width="1.8"/>
<rect x="247.50" y="448.10" width="3.60" height="14.20" fill="#000" rx="0.8"/>
<circle cx="251.20" cy="455.20" r="2.0" fill="#000"/>
<line x1="252.00" y1="472.50" x2="265.80" y2="472.50" stroke="#e9592b" stroke-width="1.8"/>
<rect x="257.00" y="464.50" width="3.60" height="16.00" fill="#e9592b" rx="0.8"/>
<circle cx="252.60" cy="472.50" r="2.0" fill="#e9592b"/>
<circle cx="265.20" cy="472.50" r="2.0" fill="#e9592b"/>
<line x1="247.00" y1="489.30" x2="251.00" y2="489.30" stroke="#000" stroke-width="1.8"/>
<rect x="247.20" y="481.95" width="3.60" height="14.70" fill="#000" rx="0.8"/>
<circle cx="247.50" cy="489.30" r="2.0" fill="#000"/>
<circle cx="250.60" cy="489.30" r="2.0" fill="#000"/>
<path d="M349,405.00 L351.6,405.00 L351.6,421.60 L349,421.60" fill="none" stroke="#a6a6a6" stroke-width="0.8"/>
<text x="0" y="0" transform="translate(353.80,418.70) scale(1,1.1)" font-size="9.5" fill="#231f20">***</text>
<path d="M349,438.40 L351.6,438.40 L351.6,455.30 L349,455.30" fill="none" stroke="#a6a6a6" stroke-width="0.8"/>
<text x="0" y="0" transform="translate(353.80,452.25) scale(1,1.1)" font-size="9.5" fill="#231f20">***</text>
<path d="M349,472.00 L351.6,472.00 L351.6,489.40 L349,489.40" fill="none" stroke="#a6a6a6" stroke-width="0.8"/>
<text x="0" y="0" transform="translate(353.80,486.10) scale(1,1.1)" font-size="9.5" fill="#231f20">***</text>
<text x="0" y="0" transform="translate(172.30,546.50) scale(1,1.1)" font-size="10.5" fill="#000" font-weight="bold" stroke="#000" stroke-width="0.35">i</text>
<line x1="204.40" y1="563.10" x2="204.40" y2="637.80" stroke="#8c8c8c" stroke-width="0.9"/>
<line x1="204.40" y1="637.50" x2="301.30" y2="637.50" stroke="#8c8c8c" stroke-width="0.9"/>
<line x1="210.40" y1="637.50" x2="210.40" y2="639.70" stroke="#8c8c8c" stroke-width="0.8"/>
<text x="0" y="0" transform="translate(210.40,650.90) scale(1,1.1)" font-size="7.9" fill="#231f20" text-anchor="middle">0</text>
<line x1="235.76" y1="637.50" x2="235.76" y2="639.70" stroke="#8c8c8c" stroke-width="0.8"/>
<text x="0" y="0" transform="translate(235.76,650.90) scale(1,1.1)" font-size="7.9" fill="#231f20" text-anchor="middle">0.1</text>
<line x1="261.12" y1="637.50" x2="261.12" y2="639.70" stroke="#8c8c8c" stroke-width="0.8"/>
<text x="0" y="0" transform="translate(261.12,650.90) scale(1,1.1)" font-size="7.9" fill="#231f20" text-anchor="middle">0.2</text>
<line x1="286.48" y1="637.50" x2="286.48" y2="639.70" stroke="#8c8c8c" stroke-width="0.8"/>
<text x="0" y="0" transform="translate(286.48,650.90) scale(1,1.1)" font-size="7.9" fill="#231f20" text-anchor="middle">0.3</text>
<text x="0" y="0" transform="translate(255.30,664.60) scale(1,1.1)" font-size="7.9" fill="#231f20" text-anchor="middle">Prevalence of EBVread<tspan font-size="5" dy="-3.2">+</tspan></text>
<text x="0" y="0" transform="translate(198.70,583.60) scale(1,1.1)" font-size="7.9" fill="#231f20" text-anchor="end">Sex</text>
<text x="0" y="0" transform="translate(198.70,615.90) scale(1,1.1)" font-size="7.9" fill="#231f20" text-anchor="end">Current</text>
<text x="0" y="0" transform="translate(198.70,625.00) scale(1,1.1)" font-size="7.9" fill="#231f20" text-anchor="end">smoker</text>
<text x="0" y="0" transform="translate(209.00,575.50) scale(1,1.1)" font-size="7.9" fill="#e9592b">Male</text>
<text x="0" y="0" transform="translate(209.00,591.90) scale(1,1.1)" font-size="7.9" fill="#000">Female</text>
<text x="0" y="0" transform="translate(209.00,610.50) scale(1,1.1)" font-size="7.9" fill="#e9592b">Yes</text>
<text x="0" y="0" transform="translate(209.00,626.50) scale(1,1.1)" font-size="7.9" fill="#000">No</text>
<line x1="250.30" y1="573.10" x2="256.90" y2="573.10" stroke="#e9592b" stroke-width="1.8"/>
<rect x="252.00" y="565.10" width="3.60" height="16.00" fill="#e9592b" rx="0.8"/>
<circle cx="251.30" cy="573.10" r="2.0" fill="#e9592b"/>
<circle cx="256.00" cy="573.10" r="2.0" fill="#e9592b"/>
<line x1="243.00" y1="589.50" x2="249.00" y2="589.50" stroke="#000" stroke-width="1.8"/>
<rect x="244.40" y="582.00" width="3.60" height="15.00" fill="#000" rx="0.8"/>
<circle cx="244.00" cy="589.50" r="2.0" fill="#000"/>
<circle cx="248.40" cy="589.50" r="2.0" fill="#000"/>
<line x1="262.00" y1="608.90" x2="270.60" y2="608.90" stroke="#e9592b" stroke-width="1.8"/>
<rect x="264.50" y="600.65" width="3.60" height="16.50" fill="#e9592b" rx="0.8"/>
<circle cx="263.30" cy="608.90" r="2.0" fill="#e9592b"/>
<circle cx="269.30" cy="608.90" r="2.0" fill="#e9592b"/>
<line x1="245.00" y1="625.40" x2="250.00" y2="625.40" stroke="#000" stroke-width="1.8"/>
<rect x="245.80" y="617.90" width="3.60" height="15.00" fill="#000" rx="0.8"/>
<circle cx="245.90" cy="625.40" r="2.0" fill="#000"/>
<circle cx="249.30" cy="625.40" r="2.0" fill="#000"/>
<path d="M303.9,573.40 L306.7,573.40 L306.7,588.30 L303.9,588.30" fill="none" stroke="#b0b0b0" stroke-width="0.8"/>
<text x="0" y="0" transform="translate(309.80,586.25) scale(1,1.1)" font-size="9.5" fill="#231f20">***</text>
<path d="M303.9,610.50 L306.7,610.50 L306.7,625.60 L303.9,625.60" fill="none" stroke="#b0b0b0" stroke-width="0.8"/>
<text x="0" y="0" transform="translate(309.80,623.45) scale(1,1.1)" font-size="9.5" fill="#231f20">***</text>
<text x="0" y="0" transform="translate(379.50,399.20) scale(1,1.1)" font-size="10.5" fill="#000" font-weight="bold" stroke="#000" stroke-width="0.35">j</text>
<line x1="411.70" y1="405.40" x2="411.70" y2="501.70" stroke="#8c8c8c" stroke-width="0.9"/>
<line x1="411.70" y1="501.30" x2="496.00" y2="501.30" stroke="#8c8c8c" stroke-width="0.9"/>
<line x1="409.40" y1="492.40" x2="411.70" y2="492.40" stroke="#8c8c8c" stroke-width="0.8"/>
<text x="0" y="0" transform="translate(404.10,495.10) scale(1,1.1)" font-size="7.8" fill="#231f20" text-anchor="end">40</text>
<line x1="409.40" y1="468.70" x2="411.70" y2="468.70" stroke="#8c8c8c" stroke-width="0.8"/>
<text x="0" y="0" transform="translate(404.10,471.40) scale(1,1.1)" font-size="7.8" fill="#231f20" text-anchor="end">50</text>
<line x1="409.40" y1="445.00" x2="411.70" y2="445.00" stroke="#8c8c8c" stroke-width="0.8"/>
<text x="0" y="0" transform="translate(404.10,447.70) scale(1,1.1)" font-size="7.8" fill="#231f20" text-anchor="end">60</text>
<line x1="409.40" y1="421.30" x2="411.70" y2="421.30" stroke="#8c8c8c" stroke-width="0.8"/>
<text x="0" y="0" transform="translate(404.10,424.00) scale(1,1.1)" font-size="7.8" fill="#231f20" text-anchor="end">70</text>
<line x1="415.60" y1="501.30" x2="415.60" y2="503.50" stroke="#8c8c8c" stroke-width="0.8"/>
<text x="0" y="0" transform="translate(415.60,513.80) scale(1,1.1)" font-size="7.8" fill="#231f20" text-anchor="middle">0</text>
<line x1="432.50" y1="501.30" x2="432.50" y2="503.50" stroke="#8c8c8c" stroke-width="0.8"/>
<text x="0" y="0" transform="translate(432.50,513.80) scale(1,1.1)" font-size="7.8" fill="#231f20" text-anchor="middle">0.1</text>
<line x1="449.40" y1="501.30" x2="449.40" y2="503.50" stroke="#8c8c8c" stroke-width="0.8"/>
<text x="0" y="0" transform="translate(449.40,513.80) scale(1,1.1)" font-size="7.8" fill="#231f20" text-anchor="middle">0.2</text>
<line x1="466.30" y1="501.30" x2="466.30" y2="503.50" stroke="#8c8c8c" stroke-width="0.8"/>
<text x="0" y="0" transform="translate(466.30,513.80) scale(1,1.1)" font-size="7.8" fill="#231f20" text-anchor="middle">0.3</text>
<line x1="483.20" y1="501.30" x2="483.20" y2="503.50" stroke="#8c8c8c" stroke-width="0.8"/>
<text x="0" y="0" transform="translate(483.20,513.80) scale(1,1.1)" font-size="7.8" fill="#231f20" text-anchor="middle">0.4</text>
<text x="0" y="0" transform="translate(453.30,527.60) scale(1,1.1)" font-size="7.8" fill="#231f20" text-anchor="middle">Prevalence of EBVread<tspan font-size="5" dy="-3.2">+</tspan></text>
<text x="0" y="0" font-size="7.8" fill="#231f20" text-anchor="middle" transform="translate(387.00,452.00) rotate(-90) scale(1,1.1)">Age (years)</text>
<circle cx="433.30" cy="494.50" r="2.3" fill="#c0c0c0"/>
<circle cx="434.30" cy="492.14" r="2.3" fill="#c0c0c0"/>
<circle cx="433.77" cy="489.79" r="2.3" fill="#c0c0c0"/>
<circle cx="434.89" cy="487.43" r="2.3" fill="#c0c0c0"/>
<circle cx="434.43" cy="485.07" r="2.3" fill="#c0c0c0"/>
<circle cx="435.59" cy="482.71" r="2.3" fill="#c0c0c0"/>
<circle cx="435.18" cy="480.36" r="2.3" fill="#c0c0c0"/>
<circle cx="436.37" cy="478.00" r="2.3" fill="#c0c0c0"/>
<circle cx="435.99" cy="475.64" r="2.3" fill="#c0c0c0"/>
<circle cx="437.21" cy="473.29" r="2.3" fill="#c0c0c0"/>
<circle cx="436.85" cy="470.93" r="2.3" fill="#c0c0c0"/>
<circle cx="438.10" cy="468.57" r="2.3" fill="#c0c0c0"/>
<circle cx="437.76" cy="466.21" r="2.3" fill="#c0c0c0"/>
<circle cx="439.03" cy="463.86" r="2.3" fill="#c0c0c0"/>
<circle cx="438.71" cy="461.50" r="2.3" fill="#c0c0c0"/>
<circle cx="439.99" cy="459.14" r="2.3" fill="#c0c0c0"/>
<circle cx="439.69" cy="456.79" r="2.3" fill="#c0c0c0"/>
<circle cx="440.99" cy="454.43" r="2.3" fill="#c0c0c0"/>
<circle cx="440.70" cy="452.07" r="2.3" fill="#c0c0c0"/>
<circle cx="442.02" cy="449.71" r="2.3" fill="#c0c0c0"/>
<circle cx="441.75" cy="447.36" r="2.3" fill="#c0c0c0"/>
<circle cx="443.08" cy="445.00" r="2.3" fill="#c0c0c0"/>
<circle cx="442.81" cy="442.64" r="2.3" fill="#c0c0c0"/>
<circle cx="444.16" cy="440.29" r="2.3" fill="#c0c0c0"/>
<circle cx="443.91" cy="437.93" r="2.3" fill="#c0c0c0"/>
<circle cx="445.26" cy="435.57" r="2.3" fill="#c0c0c0"/>
<circle cx="445.02" cy="433.21" r="2.3" fill="#c0c0c0"/>
<circle cx="446.39" cy="430.86" r="2.3" fill="#c0c0c0"/>
<circle cx="446.16" cy="428.50" r="2.3" fill="#c0c0c0"/>
<circle cx="447.54" cy="426.14" r="2.3" fill="#c0c0c0"/>
<circle cx="447.32" cy="423.79" r="2.3" fill="#c0c0c0"/>
<circle cx="448.71" cy="421.43" r="2.3" fill="#c0c0c0"/>
<circle cx="448.50" cy="419.07" r="2.3" fill="#c0c0c0"/>
<circle cx="449.89" cy="416.71" r="2.3" fill="#c0c0c0"/>
<circle cx="449.70" cy="414.36" r="2.3" fill="#c0c0c0"/>
<circle cx="451.10" cy="412.00" r="2.3" fill="#c0c0c0"/>
<ellipse cx="433.4" cy="496.0" rx="2.3" ry="1.7" fill="#cbcbcb"/>
<polyline points="433.60,494.50 433.77,492.44 434.00,490.38 434.27,488.31 434.56,486.25 434.86,484.19 435.19,482.12 435.52,480.06 435.87,478.00 436.23,475.94 436.61,473.88 436.99,471.81 437.37,469.75 437.77,467.69 438.18,465.62 438.59,463.56 439.01,461.50 439.43,459.44 439.87,457.38 440.30,455.31 440.75,453.25 441.20,451.19 441.65,449.12 442.11,447.06 442.58,445.00 443.05,442.94 443.52,440.88 444.00,438.81 444.48,436.75 444.97,434.69 445.47,432.62 445.96,430.56 446.46,428.50 446.97,426.44 447.47,424.38 447.99,422.31 448.50,420.25 449.02,418.19 449.54,416.12 450.07,414.06 450.60,412.00" fill="none" stroke="#0e6db4" stroke-width="1.9" stroke-linejoin="round"/>
<line x1="496.50" y1="409.20" x2="496.50" y2="496.90" stroke="#000" stroke-width="1.0"/>
<rect x="496.5" y="418.2" width="1.8" height="4.6" fill="#555" stroke="#000" stroke-width="0.5"/>
<rect x="496.5" y="422.80" width="10.20" height="4.64" fill="#555" stroke="#000" stroke-width="0.55"/>
<rect x="496.5" y="427.44" width="11.90" height="4.64" fill="#555" stroke="#000" stroke-width="0.55"/>
<rect x="496.5" y="432.08" width="13.40" height="4.64" fill="#555" stroke="#000" stroke-width="0.55"/>
<rect x="496.5" y="436.72" width="15.10" height="4.64" fill="#555" stroke="#000" stroke-width="0.55"/>
<rect x="496.5" y="441.36" width="15.50" height="4.64" fill="#555" stroke="#000" stroke-width="0.55"/>
<rect x="496.5" y="446.00" width="11.10" height="4.64" fill="#555" stroke="#000" stroke-width="0.55"/>
<rect x="496.5" y="450.64" width="9.80" height="4.64" fill="#555" stroke="#000" stroke-width="0.55"/>
<rect x="496.5" y="455.28" width="9.30" height="4.64" fill="#555" stroke="#000" stroke-width="0.55"/>
<rect x="496.5" y="459.92" width="8.70" height="4.64" fill="#555" stroke="#000" stroke-width="0.55"/>
<rect x="496.5" y="464.56" width="8.00" height="4.64" fill="#555" stroke="#000" stroke-width="0.55"/>
<rect x="496.5" y="469.20" width="7.50" height="4.64" fill="#555" stroke="#000" stroke-width="0.55"/>
<rect x="496.5" y="473.84" width="6.60" height="4.64" fill="#555" stroke="#000" stroke-width="0.55"/>
<rect x="496.5" y="478.48" width="6.30" height="4.64" fill="#555" stroke="#000" stroke-width="0.55"/>
<rect x="496.5" y="483.12" width="5.70" height="4.64" fill="#555" stroke="#000" stroke-width="0.55"/>
<rect x="496.5" y="487.76" width="4.30" height="4.64" fill="#555" stroke="#000" stroke-width="0.55"/>
<line x1="570.10" y1="400.70" x2="570.10" y2="501.10" stroke="#8c8c8c" stroke-width="0.9"/>
<line x1="570.10" y1="500.70" x2="654.20" y2="500.70" stroke="#8c8c8c" stroke-width="0.9"/>
<line x1="567.80" y1="478.00" x2="570.10" y2="478.00" stroke="#8c8c8c" stroke-width="0.8"/>
<text x="0" y="0" transform="translate(564.10,480.70) scale(1,1.1)" font-size="7.8" fill="#231f20" text-anchor="end">100</text>
<line x1="567.80" y1="441.60" x2="570.10" y2="441.60" stroke="#8c8c8c" stroke-width="0.8"/>
<text x="0" y="0" transform="translate(564.10,444.30) scale(1,1.1)" font-size="7.8" fill="#231f20" text-anchor="end">200</text>
<line x1="567.80" y1="405.10" x2="570.10" y2="405.10" stroke="#8c8c8c" stroke-width="0.8"/>
<text x="0" y="0" transform="translate(564.10,407.80) scale(1,1.1)" font-size="7.8" fill="#231f20" text-anchor="end">300</text>
<line x1="573.70" y1="500.70" x2="573.70" y2="502.90" stroke="#8c8c8c" stroke-width="0.8"/>
<text x="0" y="0" transform="translate(573.70,513.30) scale(1,1.1)" font-size="7.8" fill="#231f20" text-anchor="middle">0</text>
<line x1="590.95" y1="500.70" x2="590.95" y2="502.90" stroke="#8c8c8c" stroke-width="0.8"/>
<text x="0" y="0" transform="translate(590.95,513.30) scale(1,1.1)" font-size="7.8" fill="#231f20" text-anchor="middle">0.1</text>
<line x1="608.20" y1="500.70" x2="608.20" y2="502.90" stroke="#8c8c8c" stroke-width="0.8"/>
<text x="0" y="0" transform="translate(608.20,513.30) scale(1,1.1)" font-size="7.8" fill="#231f20" text-anchor="middle">0.2</text>
<line x1="625.45" y1="500.70" x2="625.45" y2="502.90" stroke="#8c8c8c" stroke-width="0.8"/>
<text x="0" y="0" transform="translate(625.45,513.30) scale(1,1.1)" font-size="7.8" fill="#231f20" text-anchor="middle">0.3</text>
<line x1="642.70" y1="500.70" x2="642.70" y2="502.90" stroke="#8c8c8c" stroke-width="0.8"/>
<text x="0" y="0" transform="translate(642.70,513.30) scale(1,1.1)" font-size="7.8" fill="#231f20" text-anchor="middle">0.4</text>
<text x="0" y="0" transform="translate(611.90,527.60) scale(1,1.1)" font-size="7.8" fill="#231f20" text-anchor="middle">Prevalence of EBVread<tspan font-size="5" dy="-3.2">+</tspan></text>
<text x="0" y="0" font-size="7.8" fill="#231f20" text-anchor="middle" transform="translate(542.70,450.40) rotate(-90) scale(1,1.1)">Yield (Gb)</text>
<polygon points="595.64,484.00 597.55,482.40 596.78,480.80 598.50,479.20 597.45,477.60 599.20,476.00 598.18,474.40 599.97,472.80 598.97,471.20 600.79,469.60 599.83,468.00 601.68,466.40 600.81,464.80 602.78,463.20 601.97,461.60 603.97,460.00 603.18,458.40 605.21,456.80 604.46,455.20 606.52,453.60 605.79,452.00 607.86,450.40 607.09,448.80 609.14,447.20 608.40,445.60 610.48,444.00 609.77,442.40 611.88,440.80 611.20,439.20 613.34,437.60 612.70,436.00 614.87,434.40 614.25,432.80 616.45,431.20 615.87,429.60 618.08,428.00 617.38,426.40 619.50,424.80 618.84,423.20 620.99,421.60 620.35,420.00 622.53,418.40 621.93,416.80 624.14,415.20 623.56,413.60 625.80,412.00 625.26,410.40 627.53,408.80 627.02,407.20 629.33,405.60 628.84,404.00 629.40,403.30 650.50,403.30 653.12,404.00 650.17,405.60 650.03,407.20 647.11,408.80 647.01,410.40 644.12,412.00 644.04,413.60 641.18,415.20 641.14,416.80 638.31,418.40 638.30,420.00 635.50,421.60 635.52,423.20 632.76,424.80 632.81,426.40 630.07,428.00 630.25,429.60 627.66,431.20 627.88,432.80 625.32,434.40 625.57,436.00 623.04,437.60 623.33,439.20 620.83,440.80 621.15,442.40 618.68,444.00 619.03,445.60 616.59,447.20 616.97,448.80 614.56,450.40 615.01,452.00 612.69,453.60 613.19,455.20 610.91,456.80 611.44,458.40 609.19,460.00 609.75,461.60 607.52,463.20 608.12,464.80 605.91,466.40 606.46,468.00 604.23,469.60 604.82,471.20 602.62,472.80 603.24,474.40 601.07,476.00 601.72,477.60 599.58,479.20 600.26,480.80 598.39,482.40 599.28,484.00" fill="#c6c6c6" stroke="#c6c6c6" stroke-width="0.6" stroke-linejoin="round"/>
<polyline points="594.80,493.50 595.19,492.02 595.60,490.54 596.02,489.06 596.45,487.59 596.90,486.11 597.36,484.63 597.83,483.15 598.31,481.67 598.81,480.19 599.32,478.72 599.85,477.24 600.39,475.76 600.94,474.28 601.50,472.80 602.08,471.32 602.67,469.85 603.28,468.37 603.89,466.89 604.52,465.41 605.17,463.93 605.82,462.45 606.49,460.98 607.18,459.50 607.87,458.02 608.58,456.54 609.30,455.06 610.04,453.58 610.79,452.11 611.55,450.63 612.32,449.15 613.11,447.67 613.91,446.19 614.73,444.72 615.56,443.24 616.40,441.76 617.25,440.28 618.12,438.80 619.00,437.32 619.89,435.85 620.80,434.37 621.72,432.89 622.65,431.41 623.60,429.93 624.56,428.45 625.53,426.98 626.52,425.50 627.52,424.02 628.53,422.54 629.55,421.06 630.59,419.58 631.64,418.11 632.71,416.63 633.79,415.15 634.88,413.67 635.98,412.19 637.10,410.71 638.23,409.24 639.37,407.76 640.53,406.28 641.70,404.80" fill="none" stroke="#0e6db4" stroke-width="1.9" stroke-linejoin="round"/>
<line x1="655.10" y1="404.50" x2="655.10" y2="496.00" stroke="#000" stroke-width="1.0"/>
<polygon points="655.10,404.50 655.45,404.50 655.45,405.50 655.45,406.50 655.45,407.50 655.45,408.50 655.45,409.50 655.45,410.50 655.45,411.50 655.45,412.50 655.45,413.50 655.45,414.50 655.45,415.50 655.45,416.50 655.45,417.50 655.45,418.50 655.45,419.50 655.45,420.50 655.45,421.50 655.46,422.50 655.46,423.50 655.46,424.50 655.46,425.50 655.46,426.50 655.46,427.50 655.46,428.50 655.46,429.50 655.46,430.50 655.47,431.50 655.47,432.50 655.47,433.50 655.47,434.50 655.48,435.50 655.48,436.50 655.49,437.50 655.49,438.50 655.50,439.50 655.50,440.50 655.51,441.50 655.52,442.50 655.52,443.50 655.53,444.50 655.55,445.50 655.56,446.50 655.57,447.50 655.59,448.50 655.61,449.50 655.63,450.50 655.65,451.50 655.68,452.50 655.71,453.50 655.75,454.50 655.79,455.50 655.83,456.50 655.88,457.50 655.94,458.50 656.00,459.50 656.08,460.50 656.16,461.50 656.25,462.50 656.36,463.50 656.48,464.50 656.62,465.50 656.78,466.50 656.95,467.50 655.10,468.00" fill="#111"/>
<rect x="655.1" y="468.00" width="2.20" height="1.7" fill="#141414"/>
<rect x="655.1" y="470.00" width="3.20" height="1.7" fill="#141414"/>
<rect x="655.1" y="472.00" width="5.50" height="1.7" fill="#141414"/>
<rect x="655.1" y="474.00" width="9.00" height="1.7" fill="#141414"/>
<rect x="655.1" y="476.00" width="14.00" height="1.7" fill="#141414"/>
<rect x="655.1" y="478.00" width="16.00" height="1.7" fill="#141414"/>
<rect x="655.1" y="480.00" width="13.00" height="1.7" fill="#141414"/>
<rect x="655.1" y="482.00" width="9.00" height="1.7" fill="#141414"/>
<rect x="655.1" y="484.00" width="5.50" height="1.7" fill="#141414"/>
<rect x="655.1" y="486.00" width="3.00" height="1.7" fill="#141414"/>
<rect x="655.1" y="488.00" width="1.80" height="1.7" fill="#141414"/>
<rect x="655.1" y="490.00" width="1.00" height="1.7" fill="#141414"/>
<rect x="655.1" y="492.00" width="0.60" height="1.7" fill="#141414"/>
<line x1="411.80" y1="542.10" x2="411.80" y2="637.90" stroke="#8c8c8c" stroke-width="0.9"/>
<line x1="411.80" y1="637.50" x2="495.80" y2="637.50" stroke="#8c8c8c" stroke-width="0.9"/>
<line x1="409.50" y1="633.50" x2="411.80" y2="633.50" stroke="#8c8c8c" stroke-width="0.8"/>
<text x="0" y="0" transform="translate(404.10,636.20) scale(1,1.1)" font-size="7.8" fill="#231f20" text-anchor="end">0</text>
<line x1="409.50" y1="604.40" x2="411.80" y2="604.40" stroke="#8c8c8c" stroke-width="0.8"/>
<text x="0" y="0" transform="translate(404.10,607.10) scale(1,1.1)" font-size="7.8" fill="#231f20" text-anchor="end">20</text>
<line x1="409.50" y1="575.20" x2="411.80" y2="575.20" stroke="#8c8c8c" stroke-width="0.8"/>
<text x="0" y="0" transform="translate(404.10,577.90) scale(1,1.1)" font-size="7.8" fill="#231f20" text-anchor="end">40</text>
<line x1="409.50" y1="546.00" x2="411.80" y2="546.00" stroke="#8c8c8c" stroke-width="0.8"/>
<text x="0" y="0" transform="translate(404.10,548.70) scale(1,1.1)" font-size="7.8" fill="#231f20" text-anchor="end">60</text>
<line x1="415.30" y1="637.50" x2="415.30" y2="639.70" stroke="#8c8c8c" stroke-width="0.8"/>
<text x="0" y="0" transform="translate(415.30,651.10) scale(1,1.1)" font-size="7.8" fill="#231f20" text-anchor="middle">0</text>
<line x1="432.40" y1="637.50" x2="432.40" y2="639.70" stroke="#8c8c8c" stroke-width="0.8"/>
<text x="0" y="0" transform="translate(432.40,651.10) scale(1,1.1)" font-size="7.8" fill="#231f20" text-anchor="middle">0.1</text>
<line x1="449.50" y1="637.50" x2="449.50" y2="639.70" stroke="#8c8c8c" stroke-width="0.8"/>
<text x="0" y="0" transform="translate(449.50,651.10) scale(1,1.1)" font-size="7.8" fill="#231f20" text-anchor="middle">0.2</text>
<line x1="466.60" y1="637.50" x2="466.60" y2="639.70" stroke="#8c8c8c" stroke-width="0.8"/>
<text x="0" y="0" transform="translate(466.60,651.10) scale(1,1.1)" font-size="7.8" fill="#231f20" text-anchor="middle">0.3</text>
<line x1="483.70" y1="637.50" x2="483.70" y2="639.70" stroke="#8c8c8c" stroke-width="0.8"/>
<text x="0" y="0" transform="translate(483.70,651.10) scale(1,1.1)" font-size="7.8" fill="#231f20" text-anchor="middle">0.4</text>
<text x="0" y="0" transform="translate(453.30,665.10) scale(1,1.1)" font-size="7.8" fill="#231f20" text-anchor="middle">Prevalence of EBVread<tspan font-size="5" dy="-3.2">+</tspan></text>
<text x="0" y="0" font-size="7.8" fill="#231f20" text-anchor="middle" transform="translate(387.40,589.60) rotate(-90) scale(1,1.1)">Lymphocytes (%)</text>
<ellipse cx="429.00" cy="633.50" rx="2.5" ry="1.8" fill="#c4c4c4"/>
<ellipse cx="429.83" cy="626.21" rx="2.5" ry="1.8" fill="#c4c4c4"/>
<ellipse cx="431.60" cy="618.92" rx="2.5" ry="1.8" fill="#c4c4c4"/>
<ellipse cx="433.70" cy="611.63" rx="2.5" ry="1.8" fill="#c4c4c4"/>
<ellipse cx="436.05" cy="604.34" rx="2.5" ry="1.8" fill="#c4c4c4"/>
<ellipse cx="438.59" cy="597.05" rx="2.5" ry="1.8" fill="#c4c4c4"/>
<ellipse cx="441.29" cy="589.76" rx="2.5" ry="1.8" fill="#c4c4c4"/>
<ellipse cx="444.13" cy="582.47" rx="2.5" ry="1.8" fill="#c4c4c4"/>
<ellipse cx="447.10" cy="575.18" rx="2.5" ry="1.8" fill="#c4c4c4"/>
<ellipse cx="450.17" cy="567.89" rx="2.5" ry="1.8" fill="#c4c4c4"/>
<ellipse cx="453.35" cy="560.60" rx="2.5" ry="1.8" fill="#c4c4c4"/>
<ellipse cx="456.62" cy="553.31" rx="2.5" ry="1.8" fill="#c4c4c4"/>
<ellipse cx="459.98" cy="546.02" rx="2.5" ry="1.8" fill="#c4c4c4"/>
<ellipse cx="462.5" cy="546.0" rx="2.4" ry="1.5" fill="#c4c4c4"/>
<polyline points="429.80,631.30 429.96,629.88 430.19,628.46 430.46,627.04 430.75,625.63 431.07,624.21 431.40,622.79 431.75,621.37 432.12,619.95 432.50,618.53 432.89,617.12 433.29,615.70 433.71,614.28 434.13,612.86 434.56,611.44 435.00,610.02 435.45,608.61 435.91,607.19 436.38,605.77 436.85,604.35 437.33,602.93 437.82,601.51 438.31,600.10 438.81,598.68 439.32,597.26 439.83,595.84 440.35,594.42 440.87,593.00 441.40,591.59 441.94,590.17 442.48,588.75 443.03,587.33 443.58,585.91 444.13,584.50 444.69,583.08 445.26,581.66 445.83,580.24 446.40,578.82 446.98,577.40 447.56,575.99 448.15,574.57 448.74,573.15 449.34,571.73 449.94,570.31 450.54,568.89 451.15,567.48 451.76,566.06 452.38,564.64 453.00,563.22 453.62,561.80 454.25,560.38 454.88,558.97 455.51,557.55 456.15,556.13 456.79,554.71 457.43,553.29 458.08,551.87 458.73,550.46 459.38,549.04 460.04,547.62 460.70,546.20" fill="none" stroke="#0e6db4" stroke-width="1.9" stroke-linejoin="round"/>
<line x1="496.90" y1="546.10" x2="496.90" y2="633.00" stroke="#000" stroke-width="1.0"/>
<polygon points="496.9,546.1 496.90,546.10 496.90,547.10 496.90,548.10 496.90,549.10 496.90,550.10 496.90,551.10 496.90,552.10 496.90,553.10 496.90,554.10 496.90,555.10 496.90,556.10 496.90,557.10 496.90,558.10 496.90,559.10 496.90,560.10 496.90,561.10 496.90,562.10 496.90,563.10 496.90,564.10 496.90,565.10 496.97,566.10 497.25,567.10 497.67,568.10 498.21,569.10 498.84,570.10 499.55,571.10 500.32,572.10 501.12,573.10 501.96,574.10 502.81,575.10 503.67,576.10 504.52,577.10 505.36,578.10 506.18,579.10 506.97,580.10 507.72,581.10 508.43,582.10 509.09,583.10 509.70,584.10 510.25,585.10 510.73,586.10 511.16,587.10 511.51,588.10 511.79,589.10 512.00,590.10 512.14,591.10 512.20,592.10 512.18,593.10 512.09,594.10 511.93,595.10 511.69,596.10 511.38,597.10 510.99,598.10 510.55,599.10 510.03,600.10 509.46,601.10 508.83,602.10 508.15,603.10 507.42,604.10 506.65,605.10 505.85,606.10 505.03,607.10 504.18,608.10 503.32,609.10 502.47,610.10 501.62,611.10 500.80,612.10 500.00,613.10 499.26,614.10 498.58,615.10 497.98,616.10 497.49,617.10 497.12,618.10 496.92,619.10 496.90,620.10 496.90,621.10 496.90,622.10 496.90,623.10 496.90,624.10 496.90,625.10 496.90,626.10 496.90,627.10 496.90,628.10 496.90,629.10 496.90,630.10 496.90,631.10 496.90,632.10 496.90,633.10 496.9,633" fill="#111"/>
<line x1="497.50" y1="569.00" x2="513.00" y2="569.00" stroke="#fff" stroke-width="0.4"/>
<line x1="497.50" y1="571.20" x2="513.00" y2="571.20" stroke="#fff" stroke-width="0.4"/>
<line x1="497.50" y1="573.40" x2="513.00" y2="573.40" stroke="#fff" stroke-width="0.4"/>
<line x1="497.50" y1="575.60" x2="513.00" y2="575.60" stroke="#fff" stroke-width="0.4"/>
<line x1="497.50" y1="577.80" x2="513.00" y2="577.80" stroke="#fff" stroke-width="0.4"/>
<line x1="497.50" y1="580.00" x2="513.00" y2="580.00" stroke="#fff" stroke-width="0.4"/>
<line x1="497.50" y1="582.20" x2="513.00" y2="582.20" stroke="#fff" stroke-width="0.4"/>
<line x1="497.50" y1="584.40" x2="513.00" y2="584.40" stroke="#fff" stroke-width="0.4"/>
<line x1="497.50" y1="586.60" x2="513.00" y2="586.60" stroke="#fff" stroke-width="0.4"/>
<line x1="497.50" y1="588.80" x2="513.00" y2="588.80" stroke="#fff" stroke-width="0.4"/>
<line x1="497.50" y1="591.00" x2="513.00" y2="591.00" stroke="#fff" stroke-width="0.4"/>
<line x1="497.50" y1="593.20" x2="513.00" y2="593.20" stroke="#fff" stroke-width="0.4"/>
<line x1="497.50" y1="595.40" x2="513.00" y2="595.40" stroke="#fff" stroke-width="0.4"/>
<line x1="497.50" y1="597.60" x2="513.00" y2="597.60" stroke="#fff" stroke-width="0.4"/>
<line x1="497.50" y1="599.80" x2="513.00" y2="599.80" stroke="#fff" stroke-width="0.4"/>
<line x1="497.50" y1="602.00" x2="513.00" y2="602.00" stroke="#fff" stroke-width="0.4"/>
<line x1="497.50" y1="604.20" x2="513.00" y2="604.20" stroke="#fff" stroke-width="0.4"/>
<line x1="497.50" y1="606.40" x2="513.00" y2="606.40" stroke="#fff" stroke-width="0.4"/>
<line x1="497.50" y1="608.60" x2="513.00" y2="608.60" stroke="#fff" stroke-width="0.4"/>
<line x1="497.50" y1="610.80" x2="513.00" y2="610.80" stroke="#fff" stroke-width="0.4"/>
<line x1="497.50" y1="613.00" x2="513.00" y2="613.00" stroke="#fff" stroke-width="0.4"/>
<line x1="497.50" y1="615.20" x2="513.00" y2="615.20" stroke="#fff" stroke-width="0.4"/>
<line x1="556.90" y1="540.70" x2="556.90" y2="637.60" stroke="#8c8c8c" stroke-width="0.9"/>
<line x1="556.90" y1="637.20" x2="683.70" y2="637.20" stroke="#8c8c8c" stroke-width="0.9"/>
<line x1="554.60" y1="635.80" x2="556.90" y2="635.80" stroke="#8c8c8c" stroke-width="0.8"/>
<text x="0" y="0" transform="translate(551.10,638.50) scale(1,1.1)" font-size="7.8" fill="#231f20" text-anchor="end">0</text>
<line x1="554.60" y1="608.60" x2="556.90" y2="608.60" stroke="#8c8c8c" stroke-width="0.8"/>
<text x="0" y="0" transform="translate(551.10,611.30) scale(1,1.1)" font-size="7.8" fill="#231f20" text-anchor="end">0.1</text>
<line x1="554.60" y1="581.40" x2="556.90" y2="581.40" stroke="#8c8c8c" stroke-width="0.8"/>
<text x="0" y="0" transform="translate(551.10,584.10) scale(1,1.1)" font-size="7.8" fill="#231f20" text-anchor="end">0.2</text>
<line x1="554.60" y1="554.20" x2="556.90" y2="554.20" stroke="#8c8c8c" stroke-width="0.8"/>
<text x="0" y="0" transform="translate(551.10,556.90) scale(1,1.1)" font-size="7.8" fill="#231f20" text-anchor="end">0.3</text>
<line x1="568.30" y1="637.20" x2="568.30" y2="639.40" stroke="#8c8c8c" stroke-width="0.8"/>
<text x="0" y="0" transform="translate(568.30,651.20) scale(1,1.1)" font-size="7.8" fill="#231f20" text-anchor="middle">Jul</text>
<text x="0" y="0" transform="translate(568.30,659.80) scale(1,1.1)" font-size="7.8" fill="#231f20" text-anchor="middle">07</text>
<line x1="586.10" y1="637.20" x2="586.10" y2="639.40" stroke="#8c8c8c" stroke-width="0.8"/>
<text x="0" y="0" transform="translate(586.10,651.20) scale(1,1.1)" font-size="7.8" fill="#231f20" text-anchor="middle">Jan</text>
<text x="0" y="0" transform="translate(586.10,659.80) scale(1,1.1)" font-size="7.8" fill="#231f20" text-anchor="middle">08</text>
<line x1="604.20" y1="637.20" x2="604.20" y2="639.40" stroke="#8c8c8c" stroke-width="0.8"/>
<text x="0" y="0" transform="translate(604.20,651.20) scale(1,1.1)" font-size="7.8" fill="#231f20" text-anchor="middle">Jul</text>
<text x="0" y="0" transform="translate(604.20,659.80) scale(1,1.1)" font-size="7.8" fill="#231f20" text-anchor="middle">08</text>
<line x1="622.60" y1="637.20" x2="622.60" y2="639.40" stroke="#8c8c8c" stroke-width="0.8"/>
<text x="0" y="0" transform="translate(622.60,651.20) scale(1,1.1)" font-size="7.8" fill="#231f20" text-anchor="middle">Jan</text>
<text x="0" y="0" transform="translate(622.60,659.80) scale(1,1.1)" font-size="7.8" fill="#231f20" text-anchor="middle">09</text>
<line x1="640.40" y1="637.20" x2="640.40" y2="639.40" stroke="#8c8c8c" stroke-width="0.8"/>
<text x="0" y="0" transform="translate(640.40,651.20) scale(1,1.1)" font-size="7.8" fill="#231f20" text-anchor="middle">Jul</text>
<text x="0" y="0" transform="translate(640.40,659.80) scale(1,1.1)" font-size="7.8" fill="#231f20" text-anchor="middle">09</text>
<line x1="658.40" y1="637.20" x2="658.40" y2="639.40" stroke="#8c8c8c" stroke-width="0.8"/>
<text x="0" y="0" transform="translate(658.40,651.20) scale(1,1.1)" font-size="7.8" fill="#231f20" text-anchor="middle">Jan</text>
<text x="0" y="0" transform="translate(658.40,659.80) scale(1,1.1)" font-size="7.8" fill="#231f20" text-anchor="middle">10</text>
<line x1="676.20" y1="637.20" x2="676.20" y2="639.40" stroke="#8c8c8c" stroke-width="0.8"/>
<text x="0" y="0" transform="translate(676.20,651.20) scale(1,1.1)" font-size="7.8" fill="#231f20" text-anchor="middle">Jul</text>
<text x="0" y="0" transform="translate(676.20,659.80) scale(1,1.1)" font-size="7.8" fill="#231f20" text-anchor="middle">10</text>
<text x="0" y="0" transform="translate(619.30,673.50) scale(1,1.1)" font-size="7.8" fill="#231f20" text-anchor="middle">Date of attending assessment centre</text>
<text x="0" y="0" font-size="7.8" fill="#231f20" text-anchor="middle" transform="translate(531.10,589.00) rotate(-90) scale(1,1.1)">Prevalence of EBVread<tspan font-size="5" dy="-3.2">+</tspan></text>
<g fill="#7f7f7f"><circle cx="566.30" cy="598.14" r="1.45"/><circle cx="584.06" cy="591.86" r="1.45"/><circle cx="677.28" cy="587.47" r="1.45"/><circle cx="605.80" cy="588.23" r="1.45"/><circle cx="664.57" cy="587.12" r="1.45"/><circle cx="654.06" cy="595.39" r="1.45"/><circle cx="674.04" cy="602.51" r="1.45"/><circle cx="635.27" cy="595.37" r="1.45"/><circle cx="587.40" cy="585.96" r="1.45"/><circle cx="585.77" cy="590.84" r="1.45"/><circle cx="591.83" cy="581.79" r="1.45"/><circle cx="585.71" cy="583.57" r="1.45"/><circle cx="562.85" cy="597.22" r="1.45"/><circle cx="583.53" cy="596.97" r="1.45"/><circle cx="598.65" cy="595.41" r="1.45"/><circle cx="626.72" cy="597.47" r="1.45"/><circle cx="569.03" cy="601.79" r="1.45"/><circle cx="626.97" cy="590.99" r="1.45"/><circle cx="637.56" cy="595.07" r="1.45"/><circle cx="644.25" cy="599.31" r="1.45"/><circle cx="610.26" cy="594.47" r="1.45"/><circle cx="674.93" cy="601.95" r="1.45"/><circle cx="598.67" cy="587.45" r="1.45"/><circle cx="611.06" cy="593.20" r="1.45"/><circle cx="664.35" cy="596.86" r="1.45"/><circle cx="584.97" cy="588.61" r="1.45"/><circle cx="648.14" cy="597.35" r="1.45"/><circle cx="668.79" cy="593.49" r="1.45"/><circle cx="611.93" cy="597.76" r="1.45"/><circle cx="666.56" cy="586.59" r="1.45"/><circle cx="616.35" cy="593.52" r="1.45"/><circle cx="627.13" cy="588.36" r="1.45"/><circle cx="637.74" cy="594.42" r="1.45"/><circle cx="635.54" cy="589.37" r="1.45"/><circle cx="605.63" cy="591.61" r="1.45"/><circle cx="595.21" cy="590.32" r="1.45"/><circle cx="623.52" cy="591.44" r="1.45"/><circle cx="619.87" cy="589.80" r="1.45"/><circle cx="657.27" cy="596.39" r="1.45"/><circle cx="576.57" cy="591.87" r="1.45"/><circle cx="673.73" cy="602.69" r="1.45"/><circle cx="567.85" cy="596.87" r="1.45"/><circle cx="671.71" cy="585.02" r="1.45"/><circle cx="635.32" cy="598.72" r="1.45"/><circle cx="659.62" cy="597.17" r="1.45"/><circle cx="587.93" cy="596.69" r="1.45"/><circle cx="609.63" cy="601.72" r="1.45"/><circle cx="583.27" cy="580.38" r="1.45"/><circle cx="587.46" cy="582.47" r="1.45"/><circle cx="607.15" cy="599.35" r="1.45"/><circle cx="576.14" cy="593.07" r="1.45"/><circle cx="668.28" cy="601.96" r="1.45"/><circle cx="566.39" cy="589.85" r="1.45"/><circle cx="566.04" cy="595.39" r="1.45"/><circle cx="661.25" cy="597.11" r="1.45"/><circle cx="626.96" cy="592.82" r="1.45"/><circle cx="636.12" cy="588.99" r="1.45"/><circle cx="630.83" cy="593.69" r="1.45"/><circle cx="612.16" cy="591.73" r="1.45"/><circle cx="613.66" cy="589.25" r="1.45"/><circle cx="564.28" cy="595.38" r="1.45"/><circle cx="589.49" cy="583.50" r="1.45"/><circle cx="652.36" cy="596.00" r="1.45"/><circle cx="582.87" cy="583.21" r="1.45"/><circle cx="617.81" cy="594.50" r="1.45"/><circle cx="612.74" cy="596.86" r="1.45"/><circle cx="572.41" cy="588.50" r="1.45"/><circle cx="566.35" cy="601.37" r="1.45"/><circle cx="637.24" cy="600.08" r="1.45"/><circle cx="654.04" cy="598.64" r="1.45"/><circle cx="622.37" cy="596.09" r="1.45"/><circle cx="606.47" cy="597.37" r="1.45"/><circle cx="674.65" cy="604.36" r="1.45"/><circle cx="680.04" cy="608.04" r="1.45"/><circle cx="648.62" cy="598.47" r="1.45"/><circle cx="678.33" cy="595.91" r="1.45"/><circle cx="620.03" cy="603.41" r="1.45"/><circle cx="581.15" cy="586.83" r="1.45"/><circle cx="655.32" cy="595.40" r="1.45"/><circle cx="603.26" cy="593.23" r="1.45"/><circle cx="651.49" cy="602.01" r="1.45"/><circle cx="594.22" cy="600.20" r="1.45"/><circle cx="658.56" cy="596.35" r="1.45"/><circle cx="670.97" cy="599.45" r="1.45"/><circle cx="586.29" cy="587.80" r="1.45"/><circle cx="599.47" cy="599.64" r="1.45"/><circle cx="565.88" cy="600.64" r="1.45"/><circle cx="672.93" cy="598.62" r="1.45"/><circle cx="642.38" cy="599.15" r="1.45"/><circle cx="654.90" cy="591.49" r="1.45"/><circle cx="575.19" cy="585.30" r="1.45"/><circle cx="604.31" cy="592.89" r="1.45"/><circle cx="665.38" cy="584.39" r="1.45"/><circle cx="666.52" cy="589.33" r="1.45"/><circle cx="573.95" cy="602.25" r="1.45"/><circle cx="608.42" cy="595.07" r="1.45"/><circle cx="656.42" cy="591.35" r="1.45"/><circle cx="630.21" cy="600.78" r="1.45"/><circle cx="604.37" cy="595.07" r="1.45"/><circle cx="582.53" cy="583.42" r="1.45"/><circle cx="649.99" cy="606.46" r="1.45"/><circle cx="591.68" cy="591.77" r="1.45"/><circle cx="637.57" cy="599.83" r="1.45"/><circle cx="640.48" cy="594.02" r="1.45"/><circle cx="598.71" cy="593.97" r="1.45"/><circle cx="579.27" cy="591.26" r="1.45"/><circle cx="634.81" cy="583.93" r="1.45"/><circle cx="668.07" cy="595.42" r="1.45"/><circle cx="577.21" cy="593.53" r="1.45"/><circle cx="564.15" cy="608.76" r="1.45"/><circle cx="561.81" cy="600.31" r="1.45"/><circle cx="604.00" cy="596.55" r="1.45"/><circle cx="588.19" cy="581.36" r="1.45"/><circle cx="585.80" cy="584.60" r="1.45"/><circle cx="635.75" cy="587.76" r="1.45"/><circle cx="672.95" cy="595.99" r="1.45"/><circle cx="590.49" cy="589.75" r="1.45"/><circle cx="637.45" cy="594.16" r="1.45"/><circle cx="665.18" cy="592.70" r="1.45"/><circle cx="592.94" cy="583.36" r="1.45"/><circle cx="562.87" cy="596.72" r="1.45"/><circle cx="603.19" cy="588.22" r="1.45"/><circle cx="638.33" cy="580.01" r="1.45"/><circle cx="648.79" cy="601.59" r="1.45"/><circle cx="591.07" cy="589.81" r="1.45"/><circle cx="624.75" cy="587.32" r="1.45"/><circle cx="609.81" cy="595.66" r="1.45"/><circle cx="654.19" cy="595.93" r="1.45"/><circle cx="562.97" cy="588.22" r="1.45"/><circle cx="578.43" cy="587.34" r="1.45"/><circle cx="585.24" cy="583.26" r="1.45"/><circle cx="637.85" cy="588.06" r="1.45"/><circle cx="658.29" cy="594.48" r="1.45"/><circle cx="597.23" cy="596.09" r="1.45"/><circle cx="567.27" cy="606.06" r="1.45"/><circle cx="646.63" cy="591.15" r="1.45"/><circle cx="562.26" cy="607.06" r="1.45"/><circle cx="616.87" cy="584.72" r="1.45"/><circle cx="649.77" cy="592.38" r="1.45"/><circle cx="574.03" cy="595.26" r="1.45"/><circle cx="589.14" cy="593.13" r="1.45"/><circle cx="650.71" cy="597.05" r="1.45"/><circle cx="644.22" cy="602.58" r="1.45"/><circle cx="593.15" cy="581.66" r="1.45"/><circle cx="627.40" cy="578.06" r="1.45"/><circle cx="623.77" cy="592.82" r="1.45"/><circle cx="593.07" cy="579.75" r="1.45"/><circle cx="587.32" cy="576.44" r="1.45"/><circle cx="666.23" cy="596.30" r="1.45"/><circle cx="589.60" cy="588.51" r="1.45"/><circle cx="650.02" cy="605.22" r="1.45"/><circle cx="600.40" cy="589.87" r="1.45"/><circle cx="666.24" cy="589.79" r="1.45"/><circle cx="669.50" cy="597.02" r="1.45"/><circle cx="636.55" cy="588.37" r="1.45"/><circle cx="678.00" cy="591.37" r="1.45"/><circle cx="617.37" cy="597.17" r="1.45"/><circle cx="663.55" cy="583.67" r="1.45"/><circle cx="613.53" cy="593.41" r="1.45"/><circle cx="598.12" cy="584.69" r="1.45"/><circle cx="586.72" cy="586.58" r="1.45"/><circle cx="669.88" cy="591.81" r="1.45"/><circle cx="578.71" cy="594.25" r="1.45"/><circle cx="672.04" cy="595.28" r="1.45"/><circle cx="602.54" cy="594.77" r="1.45"/><circle cx="566.46" cy="599.92" r="1.45"/><circle cx="643.92" cy="591.34" r="1.45"/><circle cx="649.18" cy="589.99" r="1.45"/><circle cx="569.33" cy="592.27" r="1.45"/><circle cx="658.79" cy="589.05" r="1.45"/><circle cx="659.03" cy="593.58" r="1.45"/><circle cx="664.77" cy="590.08" r="1.45"/><circle cx="670.31" cy="596.28" r="1.45"/><circle cx="585.98" cy="587.49" r="1.45"/><circle cx="574.82" cy="604.59" r="1.45"/><circle cx="658.13" cy="594.68" r="1.45"/><circle cx="636.97" cy="595.40" r="1.45"/><circle cx="595.70" cy="583.40" r="1.45"/><circle cx="573.39" cy="602.37" r="1.45"/><circle cx="585.89" cy="594.09" r="1.45"/><circle cx="599.48" cy="591.72" r="1.45"/><circle cx="592.05" cy="589.27" r="1.45"/><circle cx="595.13" cy="589.17" r="1.45"/><circle cx="599.68" cy="587.43" r="1.45"/><circle cx="676.22" cy="586.85" r="1.45"/><circle cx="635.07" cy="590.16" r="1.45"/><circle cx="565.19" cy="594.39" r="1.45"/><circle cx="653.49" cy="597.46" r="1.45"/><circle cx="602.77" cy="591.94" r="1.45"/><circle cx="587.27" cy="581.23" r="1.45"/><circle cx="664.11" cy="600.35" r="1.45"/><circle cx="581.77" cy="595.80" r="1.45"/><circle cx="561.65" cy="604.92" r="1.45"/><circle cx="677.87" cy="608.79" r="1.45"/><circle cx="562.02" cy="595.12" r="1.45"/><circle cx="656.32" cy="593.43" r="1.45"/><circle cx="583.46" cy="583.92" r="1.45"/><circle cx="660.49" cy="591.66" r="1.45"/><circle cx="592.51" cy="593.37" r="1.45"/><circle cx="587.05" cy="586.54" r="1.45"/><circle cx="644.74" cy="594.79" r="1.45"/><circle cx="637.25" cy="591.92" r="1.45"/><circle cx="571.13" cy="597.88" r="1.45"/><circle cx="655.15" cy="584.83" r="1.45"/><circle cx="636.22" cy="587.54" r="1.45"/><circle cx="608.46" cy="600.06" r="1.45"/><circle cx="667.46" cy="602.70" r="1.45"/><circle cx="564.50" cy="606.43" r="1.45"/><circle cx="586.03" cy="587.39" r="1.45"/><circle cx="621.14" cy="602.78" r="1.45"/><circle cx="606.64" cy="598.28" r="1.45"/><circle cx="616.35" cy="590.18" r="1.45"/><circle cx="624.75" cy="588.58" r="1.45"/><circle cx="638.41" cy="583.19" r="1.45"/><circle cx="602.97" cy="592.47" r="1.45"/><circle cx="661.83" cy="594.23" r="1.45"/><circle cx="640.29" cy="594.43" r="1.45"/><circle cx="613.72" cy="590.99" r="1.45"/><circle cx="653.54" cy="591.56" r="1.45"/><circle cx="616.48" cy="591.48" r="1.45"/><circle cx="666.83" cy="592.32" r="1.45"/><circle cx="597.38" cy="595.50" r="1.45"/><circle cx="645.18" cy="599.57" r="1.45"/><circle cx="580.06" cy="588.04" r="1.45"/><circle cx="590.96" cy="585.09" r="1.45"/><circle cx="580.65" cy="596.79" r="1.45"/><circle cx="600.54" cy="599.06" r="1.45"/><circle cx="648.22" cy="610.14" r="1.45"/><circle cx="573.61" cy="596.88" r="1.45"/><circle cx="607.22" cy="594.61" r="1.45"/><circle cx="678.58" cy="602.02" r="1.45"/><circle cx="613.26" cy="585.68" r="1.45"/><circle cx="584.85" cy="586.98" r="1.45"/><circle cx="586.07" cy="586.31" r="1.45"/><circle cx="607.71" cy="601.05" r="1.45"/><circle cx="655.63" cy="594.57" r="1.45"/><circle cx="644.02" cy="589.15" r="1.45"/><circle cx="616.63" cy="592.80" r="1.45"/><circle cx="578.38" cy="587.01" r="1.45"/><circle cx="649.67" cy="592.82" r="1.45"/><circle cx="669.55" cy="586.41" r="1.45"/><circle cx="650.64" cy="599.05" r="1.45"/><circle cx="611.62" cy="596.56" r="1.45"/><circle cx="666.23" cy="601.02" r="1.45"/><circle cx="653.61" cy="590.68" r="1.45"/><circle cx="642.37" cy="585.56" r="1.45"/><circle cx="637.84" cy="587.58" r="1.45"/><circle cx="636.26" cy="592.62" r="1.45"/><circle cx="573.15" cy="585.67" r="1.45"/><circle cx="646.36" cy="602.60" r="1.45"/><circle cx="636.42" cy="591.29" r="1.45"/><circle cx="615.67" cy="599.50" r="1.45"/><circle cx="635.47" cy="583.35" r="1.45"/><circle cx="672.19" cy="599.62" r="1.45"/><circle cx="583.28" cy="583.66" r="1.45"/><circle cx="607.76" cy="587.03" r="1.45"/><circle cx="619.79" cy="592.69" r="1.45"/><circle cx="626.16" cy="587.49" r="1.45"/><circle cx="580.64" cy="593.28" r="1.45"/><circle cx="623.29" cy="576.08" r="1.45"/><circle cx="573.53" cy="587.86" r="1.45"/><circle cx="646.86" cy="594.32" r="1.45"/><circle cx="622.45" cy="582.58" r="1.45"/><circle cx="623.58" cy="580.55" r="1.45"/><circle cx="610.33" cy="599.27" r="1.45"/><circle cx="642.94" cy="595.47" r="1.45"/><circle cx="608.21" cy="595.64" r="1.45"/><circle cx="678.65" cy="596.45" r="1.45"/><circle cx="603.80" cy="598.67" r="1.45"/><circle cx="609.06" cy="597.11" r="1.45"/><circle cx="563.08" cy="595.86" r="1.45"/><circle cx="644.59" cy="600.50" r="1.45"/><circle cx="603.40" cy="593.79" r="1.45"/><circle cx="649.74" cy="600.48" r="1.45"/><circle cx="673.35" cy="591.79" r="1.45"/><circle cx="656.88" cy="592.10" r="1.45"/><circle cx="608.14" cy="596.12" r="1.45"/><circle cx="653.92" cy="597.00" r="1.45"/><circle cx="657.84" cy="588.05" r="1.45"/><circle cx="628.38" cy="582.55" r="1.45"/><circle cx="588.39" cy="593.31" r="1.45"/><circle cx="637.52" cy="590.90" r="1.45"/><circle cx="658.93" cy="594.59" r="1.45"/><circle cx="596.53" cy="585.25" r="1.45"/><circle cx="626.74" cy="595.33" r="1.45"/><circle cx="603.71" cy="602.06" r="1.45"/><circle cx="662.73" cy="590.59" r="1.45"/><circle cx="591.67" cy="594.16" r="1.45"/><circle cx="612.21" cy="595.30" r="1.45"/><circle cx="647.39" cy="597.86" r="1.45"/><circle cx="594.96" cy="590.41" r="1.45"/><circle cx="618.57" cy="596.64" r="1.45"/><circle cx="612.49" cy="589.51" r="1.45"/><circle cx="604.63" cy="588.11" r="1.45"/><circle cx="672.02" cy="596.01" r="1.45"/><circle cx="660.02" cy="590.03" r="1.45"/><circle cx="669.29" cy="593.81" r="1.45"/><circle cx="660.43" cy="588.37" r="1.45"/><circle cx="636.85" cy="592.47" r="1.45"/><circle cx="674.76" cy="597.03" r="1.45"/><circle cx="639.56" cy="593.94" r="1.45"/><circle cx="578.49" cy="594.33" r="1.45"/><circle cx="589.30" cy="588.94" r="1.45"/><circle cx="579.67" cy="585.76" r="1.45"/><circle cx="669.09" cy="593.94" r="1.45"/><circle cx="667.55" cy="588.93" r="1.45"/><circle cx="633.90" cy="591.37" r="1.45"/><circle cx="667.88" cy="584.01" r="1.45"/><circle cx="655.28" cy="595.52" r="1.45"/><circle cx="643.94" cy="594.06" r="1.45"/><circle cx="624.66" cy="588.03" r="1.45"/><circle cx="666.54" cy="585.71" r="1.45"/><circle cx="627.55" cy="587.06" r="1.45"/><circle cx="578.08" cy="596.08" r="1.45"/><circle cx="620.18" cy="596.97" r="1.45"/><circle cx="578.69" cy="593.88" r="1.45"/><circle cx="619.97" cy="583.78" r="1.45"/><circle cx="664.18" cy="591.41" r="1.45"/><circle cx="562.29" cy="605.19" r="1.45"/><circle cx="628.45" cy="581.95" r="1.45"/><circle cx="640.67" cy="597.98" r="1.45"/><circle cx="611.34" cy="590.63" r="1.45"/><circle cx="675.81" cy="605.18" r="1.45"/><circle cx="637.20" cy="595.62" r="1.45"/><circle cx="564.90" cy="593.12" r="1.45"/><circle cx="672.35" cy="589.46" r="1.45"/><circle cx="600.82" cy="600.18" r="1.45"/><circle cx="619.18" cy="590.62" r="1.45"/><circle cx="668.31" cy="601.68" r="1.45"/><circle cx="635.91" cy="592.89" r="1.45"/><circle cx="601.79" cy="597.20" r="1.45"/><circle cx="617.97" cy="587.80" r="1.45"/><circle cx="624.04" cy="589.19" r="1.45"/><circle cx="613.29" cy="590.76" r="1.45"/><circle cx="611.76" cy="585.04" r="1.45"/><circle cx="596.35" cy="587.49" r="1.45"/><circle cx="660.00" cy="585.96" r="1.45"/><circle cx="593.83" cy="593.50" r="1.45"/><circle cx="621.76" cy="598.33" r="1.45"/><circle cx="655.74" cy="591.96" r="1.45"/><circle cx="600.88" cy="591.30" r="1.45"/><circle cx="631.29" cy="592.67" r="1.45"/><circle cx="637.04" cy="592.08" r="1.45"/><circle cx="647.50" cy="595.81" r="1.45"/><circle cx="666.89" cy="590.28" r="1.45"/><circle cx="597.25" cy="591.13" r="1.45"/><circle cx="562.24" cy="606.53" r="1.45"/><circle cx="633.93" cy="601.87" r="1.45"/><circle cx="639.80" cy="597.25" r="1.45"/><circle cx="634.30" cy="577.60" r="1.45"/><circle cx="634.89" cy="584.05" r="1.45"/><circle cx="632.46" cy="582.42" r="1.45"/><circle cx="642.54" cy="598.48" r="1.45"/><circle cx="615.99" cy="601.58" r="1.45"/><circle cx="652.26" cy="597.81" r="1.45"/><circle cx="565.90" cy="601.39" r="1.45"/><circle cx="653.67" cy="601.42" r="1.45"/><circle cx="605.40" cy="590.45" r="1.45"/><circle cx="659.39" cy="593.49" r="1.45"/><circle cx="592.20" cy="581.53" r="1.45"/><circle cx="597.44" cy="587.29" r="1.45"/><circle cx="612.75" cy="597.36" r="1.45"/><circle cx="637.87" cy="594.19" r="1.45"/><circle cx="629.03" cy="586.70" r="1.45"/><circle cx="566.19" cy="606.78" r="1.45"/><circle cx="629.96" cy="594.87" r="1.45"/><circle cx="670.82" cy="593.06" r="1.45"/><circle cx="607.57" cy="595.63" r="1.45"/><circle cx="631.94" cy="601.53" r="1.45"/><circle cx="618.08" cy="585.75" r="1.45"/><circle cx="610.58" cy="602.17" r="1.45"/><circle cx="586.76" cy="593.24" r="1.45"/><circle cx="579.56" cy="591.66" r="1.45"/><circle cx="642.87" cy="596.77" r="1.45"/><circle cx="575.98" cy="595.42" r="1.45"/><circle cx="664.98" cy="590.96" r="1.45"/><circle cx="576.85" cy="601.71" r="1.45"/><circle cx="590.33" cy="589.20" r="1.45"/><circle cx="648.79" cy="597.58" r="1.45"/><circle cx="653.61" cy="595.90" r="1.45"/><circle cx="646.41" cy="603.46" r="1.45"/><circle cx="571.53" cy="588.11" r="1.45"/><circle cx="636.31" cy="589.58" r="1.45"/><circle cx="672.45" cy="588.89" r="1.45"/><circle cx="591.73" cy="597.57" r="1.45"/><circle cx="562.86" cy="599.25" r="1.45"/><circle cx="563.25" cy="594.78" r="1.45"/><circle cx="570.98" cy="587.17" r="1.45"/><circle cx="598.52" cy="591.90" r="1.45"/><circle cx="663.96" cy="587.83" r="1.45"/><circle cx="619.37" cy="596.47" r="1.45"/><circle cx="629.92" cy="589.71" r="1.45"/><circle cx="613.71" cy="593.09" r="1.45"/><circle cx="656.39" cy="590.10" r="1.45"/><circle cx="604.73" cy="589.59" r="1.45"/><circle cx="611.24" cy="588.92" r="1.45"/><circle cx="607.40" cy="598.42" r="1.45"/><circle cx="654.87" cy="580.65" r="1.45"/><circle cx="628.95" cy="586.92" r="1.45"/><circle cx="677.40" cy="601.14" r="1.45"/><circle cx="645.19" cy="600.14" r="1.45"/><circle cx="633.59" cy="584.89" r="1.45"/><circle cx="677.82" cy="603.24" r="1.45"/><circle cx="598.22" cy="585.33" r="1.45"/><circle cx="612.50" cy="599.34" r="1.45"/><circle cx="642.99" cy="593.14" r="1.45"/><circle cx="633.11" cy="597.56" r="1.45"/><circle cx="595.21" cy="584.01" r="1.45"/><circle cx="561.70" cy="601.50" r="1.45"/><circle cx="631.31" cy="594.28" r="1.45"/><circle cx="658.60" cy="593.38" r="1.45"/><circle cx="660.65" cy="590.33" r="1.45"/><circle cx="658.10" cy="597.35" r="1.45"/><circle cx="594.09" cy="584.14" r="1.45"/><circle cx="662.79" cy="594.30" r="1.45"/><circle cx="670.24" cy="585.39" r="1.45"/><circle cx="602.78" cy="600.31" r="1.45"/><circle cx="656.39" cy="596.76" r="1.45"/><circle cx="585.35" cy="588.61" r="1.45"/><circle cx="589.35" cy="575.06" r="1.45"/><circle cx="633.72" cy="586.73" r="1.45"/><circle cx="586.08" cy="582.58" r="1.45"/><circle cx="591.81" cy="588.69" r="1.45"/><circle cx="616.21" cy="582.81" r="1.45"/><circle cx="571.94" cy="598.73" r="1.45"/><circle cx="589.21" cy="578.69" r="1.45"/><circle cx="630.47" cy="597.50" r="1.45"/><circle cx="623.60" cy="581.63" r="1.45"/><circle cx="618.21" cy="588.72" r="1.45"/><circle cx="584.39" cy="586.93" r="1.45"/><circle cx="583.00" cy="587.80" r="1.45"/><circle cx="628.67" cy="582.20" r="1.45"/><circle cx="609.40" cy="592.24" r="1.45"/><circle cx="566.81" cy="598.24" r="1.45"/><circle cx="680.16" cy="597.47" r="1.45"/><circle cx="636.80" cy="593.51" r="1.45"/><circle cx="655.19" cy="597.87" r="1.45"/><circle cx="602.55" cy="600.39" r="1.45"/><circle cx="623.32" cy="590.57" r="1.45"/><circle cx="679.36" cy="599.60" r="1.45"/><circle cx="664.56" cy="583.91" r="1.45"/><circle cx="592.63" cy="589.63" r="1.45"/><circle cx="654.22" cy="581.37" r="1.45"/><circle cx="652.80" cy="600.85" r="1.45"/><circle cx="658.94" cy="596.28" r="1.45"/><circle cx="566.01" cy="598.13" r="1.45"/><circle cx="585.42" cy="589.59" r="1.45"/><circle cx="567.57" cy="600.28" r="1.45"/><circle cx="627.83" cy="591.83" r="1.45"/><circle cx="674.22" cy="591.84" r="1.45"/><circle cx="669.78" cy="600.59" r="1.45"/><circle cx="608.79" cy="598.54" r="1.45"/><circle cx="575.77" cy="597.42" r="1.45"/><circle cx="628.67" cy="586.31" r="1.45"/><circle cx="637.74" cy="600.61" r="1.45"/><circle cx="608.28" cy="593.08" r="1.45"/><circle cx="614.85" cy="602.01" r="1.45"/><circle cx="679.51" cy="612.11" r="1.45"/><circle cx="587.88" cy="592.41" r="1.45"/><circle cx="603.39" cy="595.25" r="1.45"/><circle cx="668.93" cy="602.08" r="1.45"/><circle cx="567.10" cy="592.16" r="1.45"/><circle cx="655.08" cy="591.47" r="1.45"/><circle cx="678.77" cy="591.30" r="1.45"/><circle cx="568.14" cy="603.67" r="1.45"/><circle cx="673.29" cy="603.43" r="1.45"/><circle cx="642.05" cy="593.77" r="1.45"/><circle cx="651.69" cy="602.58" r="1.45"/><circle cx="574.04" cy="592.03" r="1.45"/><circle cx="576.27" cy="596.82" r="1.45"/><circle cx="618.78" cy="593.71" r="1.45"/><circle cx="578.53" cy="595.36" r="1.45"/><circle cx="642.14" cy="605.36" r="1.45"/><circle cx="584.72" cy="589.54" r="1.45"/><circle cx="565.79" cy="602.97" r="1.45"/><circle cx="672.64" cy="593.47" r="1.45"/><circle cx="664.64" cy="593.85" r="1.45"/><circle cx="614.72" cy="591.93" r="1.45"/><circle cx="573.04" cy="604.64" r="1.45"/><circle cx="636.28" cy="586.37" r="1.45"/><circle cx="615.33" cy="587.85" r="1.45"/><circle cx="618.33" cy="600.97" r="1.45"/><circle cx="636.25" cy="593.74" r="1.45"/><circle cx="568.25" cy="600.83" r="1.45"/><circle cx="646.43" cy="594.62" r="1.45"/><circle cx="665.12" cy="590.44" r="1.45"/><circle cx="593.20" cy="586.38" r="1.45"/><circle cx="593.76" cy="591.34" r="1.45"/><circle cx="661.41" cy="589.51" r="1.45"/><circle cx="619.93" cy="594.06" r="1.45"/><circle cx="599.35" cy="595.07" r="1.45"/><circle cx="677.96" cy="597.77" r="1.45"/><circle cx="568.27" cy="604.42" r="1.45"/><circle cx="586.63" cy="583.00" r="1.45"/><circle cx="618.32" cy="590.84" r="1.45"/><circle cx="585.49" cy="592.91" r="1.45"/><circle cx="604.85" cy="607.64" r="1.45"/><circle cx="671.58" cy="593.34" r="1.45"/><circle cx="573.11" cy="591.53" r="1.45"/><circle cx="568.34" cy="609.53" r="1.45"/><circle cx="647.95" cy="592.90" r="1.45"/><circle cx="563.41" cy="613.92" r="1.45"/><circle cx="657.54" cy="590.79" r="1.45"/><circle cx="561.73" cy="604.68" r="1.45"/><circle cx="660.54" cy="587.80" r="1.45"/><circle cx="613.29" cy="594.10" r="1.45"/><circle cx="670.03" cy="595.01" r="1.45"/><circle cx="577.93" cy="599.34" r="1.45"/><circle cx="582.94" cy="590.67" r="1.45"/><circle cx="584.91" cy="579.68" r="1.45"/><circle cx="570.93" cy="602.66" r="1.45"/><circle cx="620.46" cy="594.88" r="1.45"/><circle cx="594.09" cy="591.92" r="1.45"/><circle cx="645.72" cy="605.40" r="1.45"/><circle cx="658.08" cy="588.90" r="1.45"/><circle cx="569.32" cy="594.98" r="1.45"/><circle cx="648.69" cy="589.15" r="1.45"/><circle cx="568.09" cy="602.79" r="1.45"/><circle cx="657.97" cy="586.65" r="1.45"/><circle cx="664.38" cy="600.94" r="1.45"/><circle cx="620.17" cy="603.57" r="1.45"/><circle cx="618.22" cy="593.14" r="1.45"/><circle cx="665.27" cy="591.16" r="1.45"/><circle cx="660.46" cy="595.18" r="1.45"/><circle cx="605.19" cy="597.63" r="1.45"/><circle cx="632.29" cy="593.51" r="1.45"/><circle cx="562.05" cy="595.58" r="1.45"/><circle cx="622.86" cy="588.55" r="1.45"/><circle cx="575.87" cy="590.68" r="1.45"/><circle cx="664.49" cy="580.96" r="1.45"/><circle cx="599.70" cy="591.50" r="1.45"/><circle cx="650.91" cy="590.15" r="1.45"/><circle cx="568.78" cy="607.31" r="1.45"/><circle cx="620.38" cy="580.46" r="1.45"/><circle cx="622.58" cy="582.42" r="1.45"/><circle cx="563.96" cy="599.17" r="1.45"/><circle cx="676.62" cy="599.12" r="1.45"/><circle cx="573.72" cy="597.84" r="1.45"/><circle cx="591.30" cy="589.04" r="1.45"/><circle cx="572.98" cy="593.32" r="1.45"/><circle cx="644.68" cy="597.94" r="1.45"/><circle cx="632.83" cy="590.06" r="1.45"/><circle cx="630.10" cy="578.80" r="1.45"/><circle cx="573.74" cy="592.90" r="1.45"/><circle cx="664.97" cy="591.12" r="1.45"/><circle cx="576.14" cy="591.17" r="1.45"/><circle cx="620.24" cy="586.16" r="1.45"/><circle cx="576.02" cy="592.94" r="1.45"/><circle cx="609.77" cy="600.57" r="1.45"/><circle cx="663.97" cy="597.18" r="1.45"/><circle cx="579.02" cy="582.75" r="1.45"/><circle cx="581.05" cy="586.10" r="1.45"/><circle cx="659.80" cy="596.99" r="1.45"/><circle cx="611.54" cy="593.13" r="1.45"/><circle cx="661.43" cy="585.54" r="1.45"/><circle cx="673.51" cy="595.01" r="1.45"/><circle cx="653.95" cy="591.75" r="1.45"/><circle cx="601.37" cy="597.13" r="1.45"/><circle cx="613.33" cy="605.10" r="1.45"/><circle cx="670.12" cy="592.34" r="1.45"/><circle cx="658.49" cy="593.23" r="1.45"/><circle cx="623.07" cy="587.64" r="1.45"/><circle cx="675.49" cy="601.58" r="1.45"/><circle cx="611.73" cy="593.53" r="1.45"/><circle cx="636.79" cy="586.85" r="1.45"/><circle cx="569.74" cy="602.01" r="1.45"/><circle cx="613.03" cy="593.65" r="1.45"/><circle cx="578.09" cy="591.82" r="1.45"/><circle cx="676.89" cy="601.01" r="1.45"/><circle cx="636.85" cy="578.59" r="1.45"/><circle cx="657.80" cy="601.41" r="1.45"/><circle cx="565.59" cy="591.41" r="1.45"/><circle cx="637.85" cy="591.53" r="1.45"/><circle cx="594.04" cy="598.41" r="1.45"/><circle cx="626.03" cy="594.98" r="1.45"/><circle cx="591.32" cy="584.76" r="1.45"/><circle cx="623.42" cy="576.01" r="1.45"/><circle cx="595.72" cy="596.48" r="1.45"/><circle cx="597.84" cy="590.22" r="1.45"/><circle cx="632.22" cy="586.34" r="1.45"/><circle cx="675.27" cy="592.81" r="1.45"/><circle cx="617.00" cy="592.20" r="1.45"/><circle cx="625.03" cy="589.97" r="1.45"/><circle cx="577.13" cy="594.76" r="1.45"/><circle cx="596.44" cy="587.18" r="1.45"/><circle cx="590.46" cy="590.86" r="1.45"/><circle cx="571.95" cy="584.62" r="1.45"/><circle cx="634.08" cy="586.62" r="1.45"/><circle cx="629.35" cy="585.27" r="1.45"/><circle cx="646.03" cy="594.57" r="1.45"/><circle cx="616.35" cy="585.37" r="1.45"/><circle cx="617.31" cy="590.04" r="1.45"/><circle cx="598.45" cy="592.52" r="1.45"/><circle cx="622.48" cy="593.65" r="1.45"/><circle cx="607.10" cy="594.44" r="1.45"/><circle cx="603.47" cy="593.74" r="1.45"/><circle cx="664.06" cy="591.84" r="1.45"/><circle cx="619.98" cy="598.38" r="1.45"/><circle cx="595.39" cy="595.36" r="1.45"/><circle cx="653.38" cy="593.90" r="1.45"/><circle cx="580.37" cy="601.40" r="1.45"/><circle cx="613.86" cy="599.24" r="1.45"/><circle cx="568.88" cy="592.45" r="1.45"/><circle cx="649.01" cy="600.80" r="1.45"/><circle cx="574.50" cy="596.06" r="1.45"/><circle cx="649.40" cy="609.55" r="1.45"/><circle cx="579.89" cy="588.11" r="1.45"/><circle cx="641.87" cy="600.59" r="1.45"/><circle cx="634.84" cy="596.61" r="1.45"/><circle cx="623.11" cy="580.48" r="1.45"/><circle cx="649.41" cy="596.13" r="1.45"/><circle cx="618.05" cy="582.20" r="1.45"/><circle cx="654.91" cy="590.32" r="1.45"/><circle cx="576.65" cy="580.19" r="1.45"/><circle cx="665.13" cy="601.39" r="1.45"/><circle cx="631.21" cy="588.44" r="1.45"/><circle cx="620.75" cy="597.92" r="1.45"/><circle cx="611.23" cy="593.63" r="1.45"/><circle cx="654.76" cy="599.22" r="1.45"/><circle cx="606.67" cy="589.44" r="1.45"/><circle cx="615.32" cy="584.66" r="1.45"/><circle cx="596.36" cy="593.54" r="1.45"/><circle cx="607.99" cy="590.01" r="1.45"/><circle cx="599.82" cy="590.97" r="1.45"/><circle cx="655.16" cy="597.53" r="1.45"/><circle cx="614.34" cy="588.66" r="1.45"/><circle cx="583.42" cy="588.21" r="1.45"/><circle cx="629.98" cy="590.75" r="1.45"/><circle cx="630.71" cy="599.06" r="1.45"/><circle cx="600.04" cy="599.86" r="1.45"/><circle cx="661.86" cy="598.95" r="1.45"/><circle cx="585.81" cy="576.02" r="1.45"/><circle cx="612.25" cy="595.84" r="1.45"/><circle cx="567.15" cy="597.91" r="1.45"/><circle cx="628.73" cy="574.45" r="1.45"/><circle cx="653.54" cy="594.42" r="1.45"/><circle cx="625.58" cy="594.95" r="1.45"/><circle cx="623.05" cy="589.15" r="1.45"/><circle cx="643.04" cy="592.62" r="1.45"/><circle cx="632.27" cy="592.21" r="1.45"/><circle cx="603.28" cy="602.39" r="1.45"/><circle cx="624.00" cy="585.89" r="1.45"/><circle cx="573.28" cy="590.32" r="1.45"/><circle cx="628.30" cy="591.59" r="1.45"/><circle cx="629.81" cy="598.57" r="1.45"/><circle cx="619.42" cy="581.02" r="1.45"/><circle cx="613.88" cy="581.45" r="1.45"/><circle cx="602.35" cy="580.82" r="1.45"/><circle cx="624.59" cy="589.81" r="1.45"/><circle cx="599.35" cy="589.48" r="1.45"/><circle cx="677.93" cy="602.60" r="1.45"/><circle cx="574.65" cy="587.52" r="1.45"/><circle cx="667.95" cy="588.53" r="1.45"/><circle cx="679.34" cy="589.41" r="1.45"/><circle cx="667.19" cy="589.20" r="1.45"/><circle cx="596.00" cy="592.51" r="1.45"/><circle cx="622.38" cy="585.87" r="1.45"/><circle cx="583.21" cy="589.26" r="1.45"/><circle cx="636.48" cy="587.02" r="1.45"/><circle cx="679.76" cy="596.13" r="1.45"/><circle cx="637.24" cy="597.65" r="1.45"/><circle cx="655.23" cy="595.07" r="1.45"/><circle cx="598.00" cy="591.88" r="1.45"/><circle cx="597.73" cy="591.44" r="1.45"/><circle cx="661.72" cy="583.88" r="1.45"/><circle cx="584.90" cy="584.31" r="1.45"/><circle cx="620.75" cy="586.26" r="1.45"/><circle cx="638.47" cy="591.44" r="1.45"/><circle cx="624.75" cy="595.90" r="1.45"/><circle cx="610.42" cy="595.36" r="1.45"/><circle cx="575.96" cy="598.41" r="1.45"/><circle cx="574.19" cy="602.11" r="1.45"/><circle cx="573.41" cy="597.76" r="1.45"/><circle cx="659.45" cy="597.97" r="1.45"/><circle cx="634.45" cy="590.76" r="1.45"/><circle cx="562.99" cy="599.26" r="1.45"/><circle cx="653.20" cy="590.30" r="1.45"/><circle cx="603.61" cy="602.50" r="1.45"/><circle cx="581.66" cy="589.78" r="1.45"/><circle cx="669.06" cy="595.65" r="1.45"/><circle cx="630.79" cy="584.30" r="1.45"/><circle cx="607.39" cy="600.43" r="1.45"/><circle cx="568.01" cy="603.71" r="1.45"/><circle cx="675.69" cy="592.86" r="1.45"/><circle cx="613.82" cy="591.28" r="1.45"/><circle cx="566.73" cy="595.63" r="1.45"/><circle cx="672.27" cy="598.07" r="1.45"/><circle cx="668.47" cy="588.74" r="1.45"/><circle cx="658.59" cy="589.48" r="1.45"/><circle cx="675.74" cy="605.21" r="1.45"/><circle cx="620.47" cy="594.84" r="1.45"/><circle cx="607.89" cy="594.02" r="1.45"/><circle cx="647.00" cy="598.45" r="1.45"/><circle cx="665.66" cy="596.56" r="1.45"/><circle cx="619.14" cy="592.58" r="1.45"/><circle cx="582.14" cy="585.66" r="1.45"/><circle cx="604.15" cy="600.43" r="1.45"/><circle cx="596.09" cy="603.95" r="1.45"/><circle cx="628.32" cy="592.80" r="1.45"/><circle cx="607.39" cy="600.00" r="1.45"/><circle cx="609.48" cy="598.24" r="1.45"/><circle cx="659.77" cy="592.87" r="1.45"/><circle cx="603.30" cy="594.26" r="1.45"/><circle cx="595.25" cy="594.21" r="1.45"/><circle cx="589.72" cy="596.46" r="1.45"/><circle cx="602.13" cy="595.61" r="1.45"/><circle cx="580.05" cy="590.14" r="1.45"/><circle cx="593.59" cy="587.00" r="1.45"/><circle cx="660.87" cy="595.75" r="1.45"/><circle cx="661.02" cy="595.88" r="1.45"/><circle cx="657.29" cy="595.54" r="1.45"/><circle cx="647.47" cy="601.99" r="1.45"/><circle cx="606.35" cy="598.88" r="1.45"/><circle cx="674.66" cy="595.84" r="1.45"/><circle cx="621.57" cy="590.99" r="1.45"/><circle cx="577.08" cy="598.70" r="1.45"/><circle cx="645.57" cy="596.87" r="1.45"/><circle cx="631.42" cy="600.68" r="1.45"/><circle cx="605.29" cy="594.96" r="1.45"/><circle cx="586.79" cy="596.18" r="1.45"/><circle cx="665.31" cy="596.54" r="1.45"/><circle cx="626.07" cy="592.63" r="1.45"/><circle cx="593.68" cy="590.29" r="1.45"/><circle cx="639.75" cy="588.45" r="1.45"/><circle cx="629.05" cy="585.34" r="1.45"/><circle cx="571.74" cy="600.73" r="1.45"/><circle cx="582.57" cy="592.68" r="1.45"/><circle cx="640.37" cy="590.57" r="1.45"/><circle cx="574.47" cy="588.71" r="1.45"/><circle cx="621.04" cy="588.31" r="1.45"/><circle cx="596.84" cy="595.99" r="1.45"/><circle cx="588.44" cy="590.04" r="1.45"/><circle cx="576.51" cy="591.72" r="1.45"/><circle cx="609.50" cy="590.89" r="1.45"/><circle cx="669.66" cy="595.20" r="1.45"/><circle cx="663.99" cy="579.44" r="1.45"/><circle cx="577.23" cy="592.08" r="1.45"/><circle cx="642.38" cy="597.75" r="1.45"/><circle cx="640.47" cy="591.22" r="1.45"/><circle cx="639.93" cy="599.09" r="1.45"/><circle cx="644.71" cy="597.69" r="1.45"/><circle cx="603.40" cy="605.41" r="1.45"/><circle cx="636.33" cy="592.43" r="1.45"/><circle cx="670.11" cy="596.17" r="1.45"/><circle cx="648.85" cy="596.45" r="1.45"/><circle cx="566.26" cy="597.34" r="1.45"/><circle cx="580.78" cy="592.06" r="1.45"/><circle cx="606.81" cy="599.83" r="1.45"/><circle cx="566.17" cy="595.94" r="1.45"/><circle cx="582.88" cy="597.19" r="1.45"/><circle cx="661.40" cy="582.96" r="1.45"/><circle cx="591.81" cy="584.68" r="1.45"/><circle cx="613.26" cy="592.58" r="1.45"/><circle cx="561.62" cy="597.08" r="1.45"/><circle cx="660.78" cy="592.20" r="1.45"/><circle cx="566.61" cy="594.03" r="1.45"/><circle cx="663.14" cy="589.81" r="1.45"/><circle cx="590.59" cy="587.12" r="1.45"/><circle cx="574.73" cy="594.67" r="1.45"/><circle cx="670.32" cy="589.84" r="1.45"/><circle cx="650.69" cy="603.45" r="1.45"/><circle cx="608.34" cy="600.02" r="1.45"/><circle cx="650.46" cy="598.17" r="1.45"/><circle cx="572.20" cy="590.95" r="1.45"/><circle cx="674.12" cy="584.54" r="1.45"/><circle cx="643.80" cy="603.40" r="1.45"/><circle cx="649.39" cy="600.48" r="1.45"/><circle cx="615.38" cy="586.44" r="1.45"/><circle cx="567.96" cy="595.86" r="1.45"/><circle cx="622.41" cy="583.78" r="1.45"/><circle cx="671.95" cy="601.58" r="1.45"/><circle cx="566.70" cy="605.73" r="1.45"/><circle cx="645.13" cy="599.25" r="1.45"/><circle cx="626.52" cy="583.40" r="1.45"/><circle cx="676.86" cy="593.99" r="1.45"/><circle cx="591.21" cy="582.90" r="1.45"/><circle cx="568.57" cy="593.67" r="1.45"/><circle cx="585.47" cy="593.21" r="1.45"/><circle cx="598.46" cy="598.26" r="1.45"/><circle cx="641.27" cy="602.35" r="1.45"/><circle cx="589.81" cy="588.46" r="1.45"/><circle cx="614.46" cy="601.10" r="1.45"/><circle cx="672.87" cy="592.52" r="1.45"/><circle cx="666.78" cy="595.95" r="1.45"/><circle cx="578.38" cy="586.88" r="1.45"/><circle cx="658.53" cy="590.09" r="1.45"/><circle cx="626.74" cy="587.80" r="1.45"/><circle cx="640.82" cy="591.56" r="1.45"/><circle cx="632.74" cy="579.39" r="1.45"/><circle cx="660.41" cy="593.88" r="1.45"/><circle cx="575.12" cy="592.09" r="1.45"/><circle cx="586.07" cy="593.73" r="1.45"/><circle cx="568.68" cy="596.60" r="1.45"/><circle cx="644.99" cy="601.44" r="1.45"/><circle cx="614.81" cy="597.83" r="1.45"/><circle cx="617.27" cy="595.79" r="1.45"/><circle cx="604.69" cy="595.69" r="1.45"/><circle cx="562.79" cy="603.29" r="1.45"/><circle cx="679.56" cy="599.41" r="1.45"/><circle cx="646.84" cy="595.17" r="1.45"/><circle cx="562.70" cy="574.80" r="1.45"/><circle cx="564.50" cy="576.00" r="1.45"/><circle cx="566.20" cy="567.30" r="1.45"/><circle cx="569.20" cy="565.30" r="1.45"/><circle cx="563.30" cy="615.00" r="1.45"/><circle cx="569.20" cy="617.40" r="1.45"/><circle cx="575.70" cy="616.60" r="1.45"/><circle cx="571.60" cy="635.80" r="1.45"/><circle cx="610.00" cy="610.00" r="1.45"/><circle cx="582.80" cy="608.30" r="1.45"/><circle cx="675.10" cy="541.80" r="1.45"/><circle cx="642.00" cy="614.00" r="1.45"/><circle cx="648.00" cy="615.50" r="1.45"/><circle cx="679.00" cy="614.00" r="1.45"/><circle cx="677.00" cy="611.00" r="1.45"/><circle cx="669.00" cy="609.00" r="1.45"/><circle cx="656.00" cy="611.00" r="1.45"/><circle cx="661.00" cy="578.50" r="1.45"/></g>
<polyline points="561.80,603.00 562.81,602.32 564.16,601.40 565.76,600.30 567.54,599.09 569.43,597.84 571.36,596.61 573.24,595.48 575.00,594.50 576.70,593.60 578.45,592.67 580.21,591.76 581.97,590.91 583.72,590.16 585.43,589.57 587.10,589.16 588.70,589.00 590.23,589.14 591.71,589.57 593.15,590.22 594.55,591.00 595.93,591.85 597.29,592.68 598.64,593.42 600.00,594.00 601.36,594.48 602.73,594.95 604.08,595.41 605.42,595.81 606.74,596.15 608.03,596.39 609.29,596.52 610.50,596.50 611.66,596.31 612.76,595.96 613.82,595.48 614.85,594.91 615.87,594.29 616.89,593.66 617.93,593.05 619.00,592.50 620.10,591.94 621.22,591.30 622.34,590.63 623.47,589.97 624.60,589.38 625.72,588.89 626.82,588.54 627.90,588.40 628.94,588.46 629.96,588.69 630.95,589.05 631.94,589.52 632.92,590.08 633.92,590.70 634.95,591.35 636.00,592.00 637.09,592.76 638.21,593.70 639.35,594.74 640.50,595.81 641.66,596.81 642.82,597.68 643.97,598.34 645.10,598.70 646.23,598.73 647.35,598.49 648.48,598.03 649.60,597.44 650.72,596.78 651.82,596.11 652.92,595.49 654.00,595.00 655.07,594.57 656.13,594.12 657.18,593.66 658.22,593.23 659.26,592.84 660.28,592.52 661.30,592.30 662.30,592.20 663.29,592.22 664.27,592.33 665.23,592.53 666.19,592.81 667.14,593.15 668.09,593.55 669.04,594.01 670.00,594.50 671.02,595.11 672.11,595.86 673.23,596.71 674.33,597.59 675.38,598.46 676.32,599.26 677.11,599.92 677.70,600.40" fill="none" stroke="#0e6db4" stroke-width="1.9" stroke-linejoin="round"/>
</svg></body></html>
